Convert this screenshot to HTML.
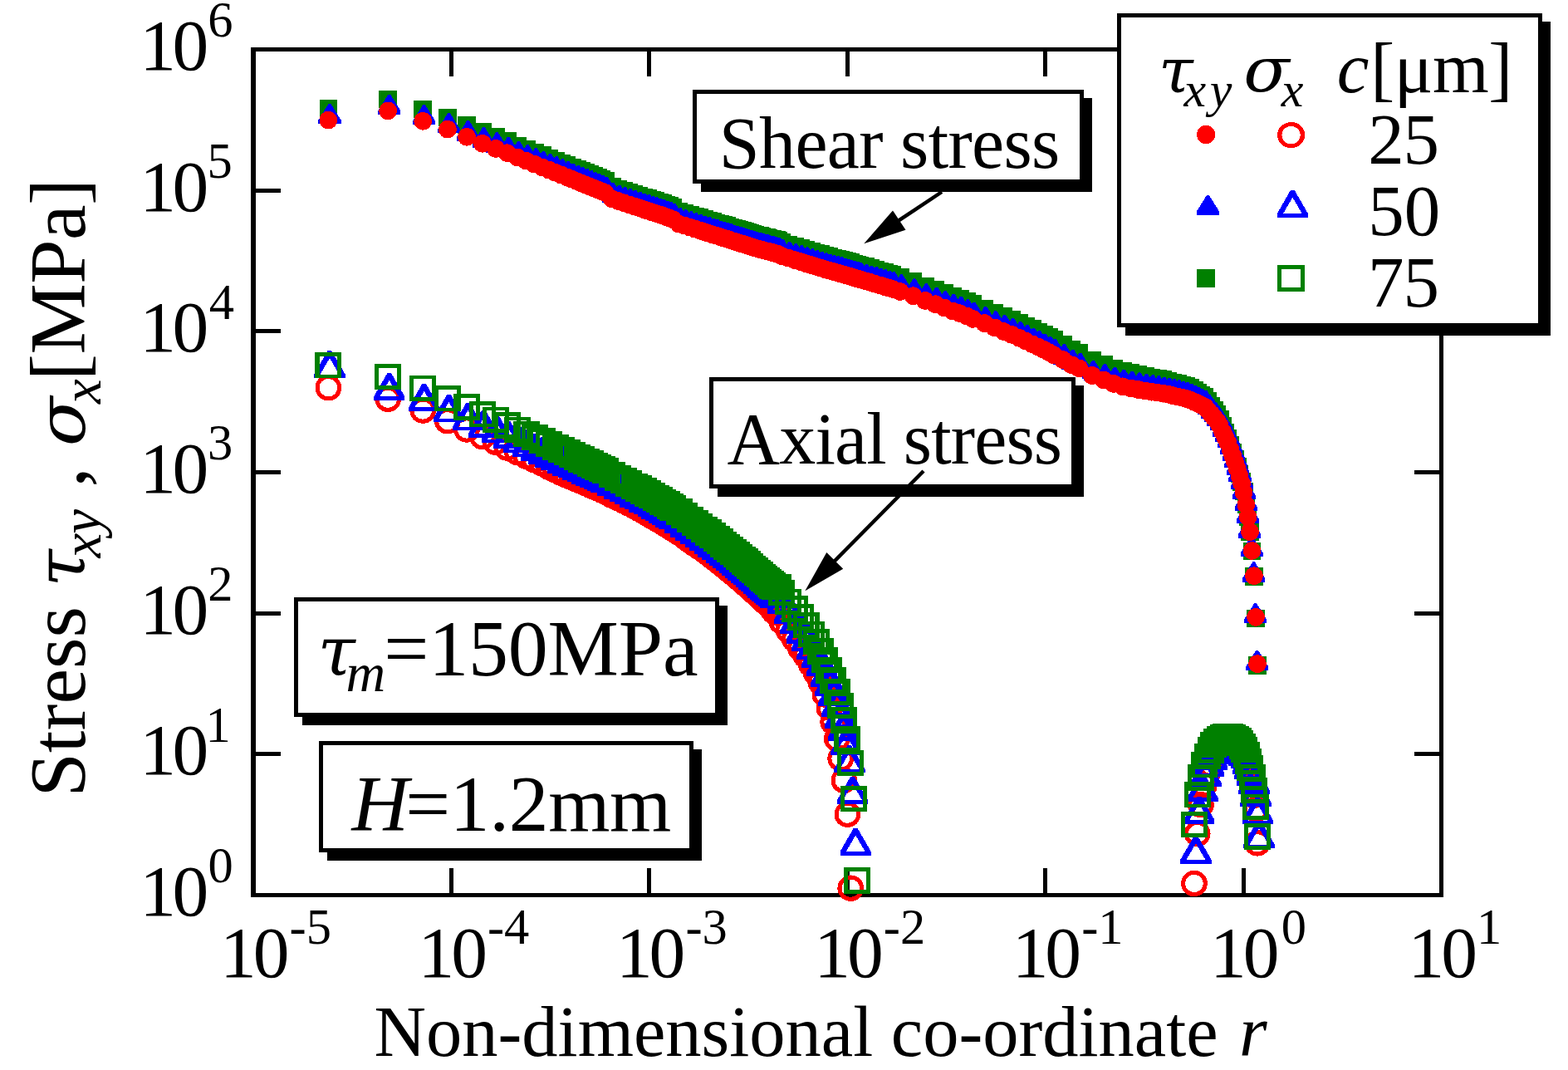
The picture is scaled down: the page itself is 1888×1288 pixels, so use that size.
<!DOCTYPE html>
<html lang="en"><head><meta charset="utf-8"><title>Stress distribution</title>
<style>html,body{margin:0;padding:0;background:#fff;overflow:hidden}svg{display:block}</style></head>
<body>
<svg xmlns="http://www.w3.org/2000/svg" width="1888" height="1288" viewBox="0 0 1888 1288" font-family="'Liberation Serif', serif" fill="#000">
<rect x="0" y="0" width="1888" height="1288" fill="#fff"/>
<g id="axes" fill="none" stroke="#000" stroke-width="5" stroke-linecap="butt" shape-rendering="crispEdges">
<path d="M305 57V1080" stroke-width="6"/>
<path d="M1735.5 57V1080"/>
<path d="M303 59.5H1738"/>
<path d="M303 1077.5H1738"/>
<path d="M543.4 59.5V92M543.4 1077.5V1045M305 229.2H338M1735.5 229.2H1703M781.8 59.5V92M781.8 1077.5V1045M305 398.8H338M1735.5 398.8H1703M1020.2 59.5V92M1020.2 1077.5V1045M305 568.5H338M1735.5 568.5H1703M1258.7 59.5V92M1258.7 1077.5V1045M305 738.2H338M1735.5 738.2H1703M1497.1 59.5V92M1497.1 1077.5V1045M305 907.8H338M1735.5 907.8H1703"/>
</g>
<g id="data" shape-rendering="crispEdges">
<path fill="#008000" d="M384.6 119.7h21.6v21.2h-21.6zM456.4 108.5h21.6v21.2h-21.6zM498.4 120.8h21.6v21.2h-21.6zM528.1 130.7h21.6v21.2h-21.6zM551.2 139.7h21.6v21.2h-21.6zM570.1 147.8h21.6v21.2h-21.6zM586.1 153.8h21.6v21.2h-21.6zM599.9 159.1h21.6v21.2h-21.6zM612.1 164.5h21.6v21.2h-21.6zM623 168.6h21.6v21.2h-21.6zM632.9 172.5h21.6v21.2h-21.6zM641.9 176.2h21.6v21.2h-21.6zM650.2 179.5h21.6v21.2h-21.6zM657.9 182.6h21.6v21.2h-21.6zM665 185.5h21.6v21.2h-21.6zM671.7 188.1h21.6v21.2h-21.6zM678 190.7h21.6v21.2h-21.6zM683.9 193h21.6v21.2h-21.6zM689.5 195.3h21.6v21.2h-21.6zM694.8 197.4h21.6v21.2h-21.6zM699.8 199.4h21.6v21.2h-21.6zM704.7 201.4h21.6v21.2h-21.6zM709.3 203.2h21.6v21.2h-21.6zM713.7 205h21.6v21.2h-21.6zM717.9 206.7h21.6v21.2h-21.6zM725.9 214.2h21.6v21.2h-21.6zM733.3 216.6h21.6v21.2h-21.6zM740.2 218.8h21.6v21.2h-21.6zM746.6 220.9h21.6v21.2h-21.6zM752.7 222.9h21.6v21.2h-21.6zM758.5 224.7h21.6v21.2h-21.6zM763.9 226.5h21.6v21.2h-21.6zM769.1 228.2h21.6v21.2h-21.6zM774 229.8h21.6v21.2h-21.6zM778.8 231.3h21.6v21.2h-21.6zM783.3 232.8h21.6v21.2h-21.6zM787.6 234.2h21.6v21.2h-21.6zM791.7 235.6h21.6v21.2h-21.6zM795.7 237h21.6v21.2h-21.6zM799.5 238.6h21.6v21.2h-21.6zM806.8 243.8h21.6v21.2h-21.6zM813.6 245.9h21.6v21.2h-21.6zM820 247.8h21.6v21.2h-21.6zM826 249.7h21.6v21.2h-21.6zM831.6 251.4h21.6v21.2h-21.6zM837 253h21.6v21.2h-21.6zM842.1 254.6h21.6v21.2h-21.6zM847 256.1h21.6v21.2h-21.6zM851.7 257.5h21.6v21.2h-21.6zM856.1 258.9h21.6v21.2h-21.6zM860.4 260.2h21.6v21.2h-21.6zM864.5 261.4h21.6v21.2h-21.6zM868.4 262.6h21.6v21.2h-21.6zM872.2 263.8h21.6v21.2h-21.6zM875.9 264.9h21.6v21.2h-21.6zM879.4 266h21.6v21.2h-21.6zM882.9 267h21.6v21.2h-21.6zM886.2 268h21.6v21.2h-21.6zM889.4 269h21.6v21.2h-21.6zM892.5 270h21.6v21.2h-21.6zM895.5 270.9h21.6v21.2h-21.6zM898.5 271.8h21.6v21.2h-21.6zM901.3 272.6h21.6v21.2h-21.6zM904.1 273.4h21.6v21.2h-21.6zM906.8 274h21.6v21.2h-21.6zM909.4 274.7h21.6v21.2h-21.6zM912 275.4h21.6v21.2h-21.6zM914.5 276h21.6v21.2h-21.6zM917 276.6h21.6v21.2h-21.6zM919.4 277.2h21.6v21.2h-21.6zM921.7 277.8h21.6v21.2h-21.6zM924 278.4h21.6v21.2h-21.6zM926.2 279h21.6v21.2h-21.6zM930.3 281.2h21.6v21.2h-21.6zM938.4 283.6h21.6v21.2h-21.6zM946 285.9h21.6v21.2h-21.6zM953.1 288h21.6v21.2h-21.6zM959.7 290h21.6v21.2h-21.6zM965.9 291.9h21.6v21.2h-21.6zM971.8 293.6h21.6v21.2h-21.6zM977.4 295.3h21.6v21.2h-21.6zM982.6 296.8h21.6v21.2h-21.6zM987.6 298.3h21.6v21.2h-21.6zM992.4 299.6h21.6v21.2h-21.6zM997 300.8h21.6v21.2h-21.6zM1001.4 301.9h21.6v21.2h-21.6zM1005.6 303.1h21.6v21.2h-21.6zM1009.6 304.3h21.6v21.2h-21.6zM1013.5 305.4h21.6v21.2h-21.6zM1017.2 306.5h21.6v21.2h-21.6zM1020.9 307.5h21.6v21.2h-21.6zM1024.4 308.5h21.6v21.2h-21.6zM1031 310.4h21.6v21.2h-21.6zM1037.3 312.2h21.6v21.2h-21.6zM1043.1 313.9h21.6v21.2h-21.6zM1048.7 315.5h21.6v21.2h-21.6zM1054 317h21.6v21.2h-21.6zM1059 318.5h21.6v21.2h-21.6zM1063.8 319.9h21.6v21.2h-21.6zM1073 322.9h21.6v21.2h-21.6zM1088.7 328h21.6v21.2h-21.6zM1103 333.7h21.6v21.2h-21.6zM1115.4 337.9h21.6v21.2h-21.6zM1125.9 342.1h21.6v21.2h-21.6zM1135.9 345.9h21.6v21.2h-21.6zM1144.9 348.7h21.6v21.2h-21.6zM1153 352h21.6v21.2h-21.6zM1160.7 355.4h21.6v21.2h-21.6zM1174.5 360.5h21.6v21.2h-21.6zM1186.6 365.6h21.6v21.2h-21.6zM1197.5 370.2h21.6v21.2h-21.6zM1207.3 374h21.6v21.2h-21.6zM1216.3 378h21.6v21.2h-21.6zM1224.5 381.8h21.6v21.2h-21.6zM1232.2 385.3h21.6v21.2h-21.6zM1239.3 388.7h21.6v21.2h-21.6zM1246 391.9h21.6v21.2h-21.6zM1252.2 395.1h21.6v21.2h-21.6zM1258.1 398.3h21.6v21.2h-21.6zM1269.2 403.9h21.6v21.2h-21.6zM1279.4 410h21.6v21.2h-21.6zM1288.4 414h21.6v21.2h-21.6zM1304.2 422.6h21.6v21.2h-21.6zM1318 428h21.6v21.2h-21.6zM1330.1 432.7h21.6v21.2h-21.6zM1341 436.2h21.6v21.2h-21.6zM1350.8 438.4h21.6v21.2h-21.6zM1359.8 440.4h21.6v21.2h-21.6zM1368.1 442.2h21.6v21.2h-21.6zM1375.7 443.6h21.6v21.2h-21.6zM1382.9 444.9h21.6v21.2h-21.6zM1389.5 446.2h21.6v21.2h-21.6zM1395.8 447.7h21.6v21.2h-21.6zM1401.7 449.5h21.6v21.2h-21.6zM1407.3 451.2h21.6v21.2h-21.6zM1412.6 452.8h21.6v21.2h-21.6zM1417.7 454.4h21.6v21.2h-21.6zM1422.5 456.4h21.6v21.2h-21.6zM1427.1 458.9h21.6v21.2h-21.6zM1431.5 461.6h21.6v21.2h-21.6zM1435.7 464.6h21.6v21.2h-21.6zM1439.8 467.3h21.6v21.2h-21.6zM1443.7 472.4h21.6v21.2h-21.6zM1447.4 477.8h21.6v21.2h-21.6zM1451 483h21.6v21.2h-21.6zM1454.6 488h21.6v21.2h-21.6zM1457.9 494.3h21.6v21.2h-21.6zM1461.2 502h21.6v21.2h-21.6zM1464.4 509.5h21.6v21.2h-21.6zM1467.5 516.7h21.6v21.2h-21.6zM1470.5 525.1h21.6v21.2h-21.6zM1473.4 533.8h21.6v21.2h-21.6zM1476.3 542.2h21.6v21.2h-21.6zM1479 550.9h21.6v21.2h-21.6zM1481.7 559.9h21.6v21.2h-21.6zM1484.3 569.3h21.6v21.2h-21.6zM1486.9 581.2h21.6v21.2h-21.6zM1489.5 596.4h21.6v21.2h-21.6zM1491.8 611.6h21.6v21.2h-21.6zM1494.2 629.5h21.6v21.2h-21.6zM1496.7 652.7h21.6v21.2h-21.6zM1499.1 683.4h21.6v21.2h-21.6zM1501.2 733.5h21.6v21.2h-21.6zM1503.2 790.3h21.6v21.2h-21.6z"/>
<path fill="#0000ff" d="M395.7 124.8h2.6l12.3 19.7v4.6h-27.3v-4.6zM467.5 113.7h2.6l12.3 19.7v4.6h-27.3v-4.6zM509.4 126.1h2.6l12.3 19.7v4.6h-27.3v-4.6zM539.2 136.1h2.6l12.3 19.7v4.6h-27.3v-4.6zM562.3 145.2h2.6l12.3 19.7v4.6h-27.3v-4.6zM581.2 153.3h2.6l12.3 19.7v4.6h-27.3v-4.6zM597.2 159.4h2.6l12.3 19.7v4.6h-27.3v-4.6zM611 164.7h2.6l12.3 19.7v4.6h-27.3v-4.6zM623.2 170.1h2.6l12.3 19.7v4.6h-27.3v-4.6zM634.1 174.2h2.6l12.3 19.7v4.6h-27.3v-4.6zM644 178.2h2.6l12.3 19.7v4.6h-27.3v-4.6zM653 181.9h2.6l12.3 19.7v4.6h-27.3v-4.6zM661.3 185.2h2.6l12.3 19.7v4.6h-27.3v-4.6zM668.9 188.3h2.6l12.3 19.7v4.6h-27.3v-4.6zM676.1 191.2h2.6l12.3 19.7v4.6h-27.3v-4.6zM682.8 193.9h2.6l12.3 19.7v4.6h-27.3v-4.6zM689 196.5h2.6l12.3 19.7v4.6h-27.3v-4.6zM695 198.9h2.6l12.3 19.7v4.6h-27.3v-4.6zM700.5 201.1h2.6l12.3 19.7v4.6h-27.3v-4.6zM705.9 203.3h2.6l12.3 19.7v4.6h-27.3v-4.6zM710.9 205.3h2.6l12.3 19.7v4.6h-27.3v-4.6zM715.7 207.3h2.6l12.3 19.7v4.6h-27.3v-4.6zM720.3 209.1h2.6l12.3 19.7v4.6h-27.3v-4.6zM724.7 210.9h2.6l12.3 19.7v4.6h-27.3v-4.6zM729 212.6h2.6l12.3 19.7v4.6h-27.3v-4.6zM736.9 220.1h2.6l12.3 19.7v4.6h-27.3v-4.6zM744.3 222.5h2.6l12.3 19.7v4.6h-27.3v-4.6zM751.2 224.8h2.6l12.3 19.7v4.6h-27.3v-4.6zM757.7 226.9h2.6l12.3 19.7v4.6h-27.3v-4.6zM763.8 228.9h2.6l12.3 19.7v4.6h-27.3v-4.6zM769.6 230.7h2.6l12.3 19.7v4.6h-27.3v-4.6zM775 232.5h2.6l12.3 19.7v4.6h-27.3v-4.6zM780.2 234.2h2.6l12.3 19.7v4.6h-27.3v-4.6zM785.1 235.8h2.6l12.3 19.7v4.6h-27.3v-4.6zM789.8 237.4h2.6l12.3 19.7v4.6h-27.3v-4.6zM794.3 238.8h2.6l12.3 19.7v4.6h-27.3v-4.6zM798.6 240.3h2.6l12.3 19.7v4.6h-27.3v-4.6zM802.8 241.7h2.6l12.3 19.7v4.6h-27.3v-4.6zM806.8 243.1h2.6l12.3 19.7v4.6h-27.3v-4.6zM810.6 244.7h2.6l12.3 19.7v4.6h-27.3v-4.6zM817.9 250.1h2.6l12.3 19.7v4.6h-27.3v-4.6zM824.7 252.2h2.6l12.3 19.7v4.6h-27.3v-4.6zM831 254.2h2.6l12.3 19.7v4.6h-27.3v-4.6zM837 256.1h2.6l12.3 19.7v4.6h-27.3v-4.6zM842.7 257.8h2.6l12.3 19.7v4.6h-27.3v-4.6zM848.1 259.5h2.6l12.3 19.7v4.6h-27.3v-4.6zM853.2 261.1h2.6l12.3 19.7v4.6h-27.3v-4.6zM858.1 262.7h2.6l12.3 19.7v4.6h-27.3v-4.6zM862.7 264.1h2.6l12.3 19.7v4.6h-27.3v-4.6zM867.2 265.5h2.6l12.3 19.7v4.6h-27.3v-4.6zM871.4 266.9h2.6l12.3 19.7v4.6h-27.3v-4.6zM875.5 268.1h2.6l12.3 19.7v4.6h-27.3v-4.6zM879.5 269.4h2.6l12.3 19.7v4.6h-27.3v-4.6zM883.3 270.6h2.6l12.3 19.7v4.6h-27.3v-4.6zM887 271.7h2.6l12.3 19.7v4.6h-27.3v-4.6zM890.5 272.8h2.6l12.3 19.7v4.6h-27.3v-4.6zM893.9 273.9h2.6l12.3 19.7v4.6h-27.3v-4.6zM897.2 274.9h2.6l12.3 19.7v4.6h-27.3v-4.6zM900.4 275.9h2.6l12.3 19.7v4.6h-27.3v-4.6zM903.6 276.9h2.6l12.3 19.7v4.6h-27.3v-4.6zM906.6 277.9h2.6l12.3 19.7v4.6h-27.3v-4.6zM909.5 278.8h2.6l12.3 19.7v4.6h-27.3v-4.6zM912.4 279.6h2.6l12.3 19.7v4.6h-27.3v-4.6zM915.2 280.4h2.6l12.3 19.7v4.6h-27.3v-4.6zM917.9 281.1h2.6l12.3 19.7v4.6h-27.3v-4.6zM920.5 281.8h2.6l12.3 19.7v4.6h-27.3v-4.6zM923.1 282.4h2.6l12.3 19.7v4.6h-27.3v-4.6zM925.6 283.1h2.6l12.3 19.7v4.6h-27.3v-4.6zM928 283.7h2.6l12.3 19.7v4.6h-27.3v-4.6zM930.4 284.3h2.6l12.3 19.7v4.6h-27.3v-4.6zM932.8 285h2.6l12.3 19.7v4.6h-27.3v-4.6zM935.1 285.6h2.6l12.3 19.7v4.6h-27.3v-4.6zM937.3 286.1h2.6l12.3 19.7v4.6h-27.3v-4.6zM941.3 288.4h2.6l12.3 19.7v4.6h-27.3v-4.6zM949.5 290.9h2.6l12.3 19.7v4.6h-27.3v-4.6zM957.1 293.2h2.6l12.3 19.7v4.6h-27.3v-4.6zM964.1 295.3h2.6l12.3 19.7v4.6h-27.3v-4.6zM970.8 297.4h2.6l12.3 19.7v4.6h-27.3v-4.6zM977 299.3h2.6l12.3 19.7v4.6h-27.3v-4.6zM982.9 301h2.6l12.3 19.7v4.6h-27.3v-4.6zM988.4 302.7h2.6l12.3 19.7v4.6h-27.3v-4.6zM993.7 304.3h2.6l12.3 19.7v4.6h-27.3v-4.6zM998.7 305.9h2.6l12.3 19.7v4.6h-27.3v-4.6zM1003.5 307.2h2.6l12.3 19.7v4.6h-27.3v-4.6zM1008 308.3h2.6l12.3 19.7v4.6h-27.3v-4.6zM1012.4 309.4h2.6l12.3 19.7v4.6h-27.3v-4.6zM1016.6 310.6h2.6l12.3 19.7v4.6h-27.3v-4.6zM1020.7 311.8h2.6l12.3 19.7v4.6h-27.3v-4.6zM1024.5 312.9h2.6l12.3 19.7v4.6h-27.3v-4.6zM1028.3 313.9h2.6l12.3 19.7v4.6h-27.3v-4.6zM1031.9 315h2.6l12.3 19.7v4.6h-27.3v-4.6zM1035.4 316h2.6l12.3 19.7v4.6h-27.3v-4.6zM1042 317.8h2.6l12.3 19.7v4.6h-27.3v-4.6zM1048.3 319.6h2.6l12.3 19.7v4.6h-27.3v-4.6zM1054.2 321.3h2.6l12.3 19.7v4.6h-27.3v-4.6zM1059.8 322.9h2.6l12.3 19.7v4.6h-27.3v-4.6zM1065 324.4h2.6l12.3 19.7v4.6h-27.3v-4.6zM1070.1 325.8h2.6l12.3 19.7v4.6h-27.3v-4.6zM1074.9 327.1h2.6l12.3 19.7v4.6h-27.3v-4.6zM1084 330.2h2.6l12.3 19.7v4.6h-27.3v-4.6zM1099.7 335.4h2.6l12.3 19.7v4.6h-27.3v-4.6zM1114 341.2h2.6l12.3 19.7v4.6h-27.3v-4.6zM1126.4 345.6h2.6l12.3 19.7v4.6h-27.3v-4.6zM1136.9 350h2.6l12.3 19.7v4.6h-27.3v-4.6zM1146.9 353.8h2.6l12.3 19.7v4.6h-27.3v-4.6zM1155.9 356.8h2.6l12.3 19.7v4.6h-27.3v-4.6zM1164 360.2h2.6l12.3 19.7v4.6h-27.3v-4.6zM1171.7 363.6h2.6l12.3 19.7v4.6h-27.3v-4.6zM1185.5 368.9h2.6l12.3 19.7v4.6h-27.3v-4.6zM1197.6 374.2h2.6l12.3 19.7v4.6h-27.3v-4.6zM1208.5 378.9h2.6l12.3 19.7v4.6h-27.3v-4.6zM1218.3 382.8h2.6l12.3 19.7v4.6h-27.3v-4.6zM1227.3 386.9h2.6l12.3 19.7v4.6h-27.3v-4.6zM1235.6 390.8h2.6l12.3 19.7v4.6h-27.3v-4.6zM1243.2 394.5h2.6l12.3 19.7v4.6h-27.3v-4.6zM1250.3 398.1h2.6l12.3 19.7v4.6h-27.3v-4.6zM1257 401.5h2.6l12.3 19.7v4.6h-27.3v-4.6zM1263.3 404.8h2.6l12.3 19.7v4.6h-27.3v-4.6zM1269.2 408.2h2.6l12.3 19.7v4.6h-27.3v-4.6zM1280.2 414.2h2.6l12.3 19.7v4.6h-27.3v-4.6zM1290.4 420.5h2.6l12.3 19.7v4.6h-27.3v-4.6zM1299.4 424.7h2.6l12.3 19.7v4.6h-27.3v-4.6zM1315.2 433.8h2.6l12.3 19.7v4.6h-27.3v-4.6zM1329 438h2.6l12.3 19.7v4.6h-27.3v-4.6zM1341.1 441.7h2.6l12.3 19.7v4.6h-27.3v-4.6zM1352 444.5h2.6l12.3 19.7v4.6h-27.3v-4.6zM1361.8 446.6h2.6l12.3 19.7v4.6h-27.3v-4.6zM1370.8 448.4h2.6l12.3 19.7v4.6h-27.3v-4.6zM1379.1 450h2.6l12.3 19.7v4.6h-27.3v-4.6zM1386.8 451.2h2.6l12.3 19.7v4.6h-27.3v-4.6zM1393.9 452.4h2.6l12.3 19.7v4.6h-27.3v-4.6zM1400.6 453.5h2.6l12.3 19.7v4.6h-27.3v-4.6zM1406.8 454.6h2.6l12.3 19.7v4.6h-27.3v-4.6zM1412.7 456h2.6l12.3 19.7v4.6h-27.3v-4.6zM1418.3 457.4h2.6l12.3 19.7v4.6h-27.3v-4.6zM1423.6 458.7h2.6l12.3 19.7v4.6h-27.3v-4.6zM1428.7 459.9h2.6l12.3 19.7v4.6h-27.3v-4.6zM1433.5 461.6h2.6l12.3 19.7v4.6h-27.3v-4.6zM1438.1 463.8h2.6l12.3 19.7v4.6h-27.3v-4.6zM1442.5 466h2.6l12.3 19.7v4.6h-27.3v-4.6zM1446.7 468.2h2.6l12.3 19.7v4.6h-27.3v-4.6zM1450.8 470.3h2.6l12.3 19.7v4.6h-27.3v-4.6zM1454.7 474.8h2.6l12.3 19.7v4.6h-27.3v-4.6zM1458.4 479.5h2.6l12.3 19.7v4.6h-27.3v-4.6zM1462 484h2.6l12.3 19.7v4.6h-27.3v-4.6zM1465.6 488.4h2.6l12.3 19.7v4.6h-27.3v-4.6zM1468.9 494.1h2.6l12.3 19.7v4.6h-27.3v-4.6zM1472.2 501.2h2.6l12.3 19.7v4.6h-27.3v-4.6zM1475.4 508.1h2.6l12.3 19.7v4.6h-27.3v-4.6zM1478.5 514.8h2.6l12.3 19.7v4.6h-27.3v-4.6zM1481.4 522.7h2.6l12.3 19.7v4.6h-27.3v-4.6zM1484.1 531h2.6l12.3 19.7v4.6h-27.3v-4.6zM1486.7 539h2.6l12.3 19.7v4.6h-27.3v-4.6zM1489.3 547.4h2.6l12.3 19.7v4.6h-27.3v-4.6zM1491.8 556h2.6l12.3 19.7v4.6h-27.3v-4.6zM1494.2 565h2.6l12.3 19.7v4.6h-27.3v-4.6zM1496.6 576.2h2.6l12.3 19.7v4.6h-27.3v-4.6zM1499 590.7h2.6l12.3 19.7v4.6h-27.3v-4.6zM1501.2 605.6h2.6l12.3 19.7v4.6h-27.3v-4.6zM1503.4 623.3h2.6l12.3 19.7v4.6h-27.3v-4.6zM1505.9 646.1h2.6l12.3 19.7v4.6h-27.3v-4.6zM1508.3 676.4h2.6l12.3 19.7v4.6h-27.3v-4.6zM1510.4 726.1h2.6l12.3 19.7v4.6h-27.3v-4.6zM1512.4 782.8h2.6l12.3 19.7v4.6h-27.3v-4.6z"/>
<path fill="#ff0000" d="M384.6 144.6a10.8 10.8 0 1 1 21.6 0a10.8 10.8 0 1 1 -21.6 0zM456.4 133.4a10.8 10.8 0 1 1 21.6 0a10.8 10.8 0 1 1 -21.6 0zM498.4 145.8a10.8 10.8 0 1 1 21.6 0a10.8 10.8 0 1 1 -21.6 0zM528.1 155.7a10.8 10.8 0 1 1 21.6 0a10.8 10.8 0 1 1 -21.6 0zM551.2 164.8a10.8 10.8 0 1 1 21.6 0a10.8 10.8 0 1 1 -21.6 0zM570.1 172.8a10.8 10.8 0 1 1 21.6 0a10.8 10.8 0 1 1 -21.6 0zM586.1 178.9a10.8 10.8 0 1 1 21.6 0a10.8 10.8 0 1 1 -21.6 0zM599.9 184.2a10.8 10.8 0 1 1 21.6 0a10.8 10.8 0 1 1 -21.6 0zM612.1 189.6a10.8 10.8 0 1 1 21.6 0a10.8 10.8 0 1 1 -21.6 0zM623 193.7a10.8 10.8 0 1 1 21.6 0a10.8 10.8 0 1 1 -21.6 0zM632.9 197.7a10.8 10.8 0 1 1 21.6 0a10.8 10.8 0 1 1 -21.6 0zM641.9 201.3a10.8 10.8 0 1 1 21.6 0a10.8 10.8 0 1 1 -21.6 0zM650.2 204.7a10.8 10.8 0 1 1 21.6 0a10.8 10.8 0 1 1 -21.6 0zM657.9 207.7a10.8 10.8 0 1 1 21.6 0a10.8 10.8 0 1 1 -21.6 0zM665 210.6a10.8 10.8 0 1 1 21.6 0a10.8 10.8 0 1 1 -21.6 0zM671.7 213.3a10.8 10.8 0 1 1 21.6 0a10.8 10.8 0 1 1 -21.6 0zM678 215.8a10.8 10.8 0 1 1 21.6 0a10.8 10.8 0 1 1 -21.6 0zM683.9 218.2a10.8 10.8 0 1 1 21.6 0a10.8 10.8 0 1 1 -21.6 0zM689.5 220.5a10.8 10.8 0 1 1 21.6 0a10.8 10.8 0 1 1 -21.6 0zM694.8 222.6a10.8 10.8 0 1 1 21.6 0a10.8 10.8 0 1 1 -21.6 0zM699.8 224.7a10.8 10.8 0 1 1 21.6 0a10.8 10.8 0 1 1 -21.6 0zM704.7 226.6a10.8 10.8 0 1 1 21.6 0a10.8 10.8 0 1 1 -21.6 0zM709.3 228.5a10.8 10.8 0 1 1 21.6 0a10.8 10.8 0 1 1 -21.6 0zM713.7 230.3a10.8 10.8 0 1 1 21.6 0a10.8 10.8 0 1 1 -21.6 0zM717.9 232a10.8 10.8 0 1 1 21.6 0a10.8 10.8 0 1 1 -21.6 0zM725.9 239.5a10.8 10.8 0 1 1 21.6 0a10.8 10.8 0 1 1 -21.6 0zM733.3 241.9a10.8 10.8 0 1 1 21.6 0a10.8 10.8 0 1 1 -21.6 0zM740.2 244.2a10.8 10.8 0 1 1 21.6 0a10.8 10.8 0 1 1 -21.6 0zM746.6 246.3a10.8 10.8 0 1 1 21.6 0a10.8 10.8 0 1 1 -21.6 0zM752.7 248.3a10.8 10.8 0 1 1 21.6 0a10.8 10.8 0 1 1 -21.6 0zM758.5 250.2a10.8 10.8 0 1 1 21.6 0a10.8 10.8 0 1 1 -21.6 0zM763.9 252a10.8 10.8 0 1 1 21.6 0a10.8 10.8 0 1 1 -21.6 0zM769.1 253.7a10.8 10.8 0 1 1 21.6 0a10.8 10.8 0 1 1 -21.6 0zM774 255.3a10.8 10.8 0 1 1 21.6 0a10.8 10.8 0 1 1 -21.6 0zM778.8 256.9a10.8 10.8 0 1 1 21.6 0a10.8 10.8 0 1 1 -21.6 0zM783.3 258.3a10.8 10.8 0 1 1 21.6 0a10.8 10.8 0 1 1 -21.6 0zM787.6 259.8a10.8 10.8 0 1 1 21.6 0a10.8 10.8 0 1 1 -21.6 0zM791.7 261.2a10.8 10.8 0 1 1 21.6 0a10.8 10.8 0 1 1 -21.6 0zM795.7 262.7a10.8 10.8 0 1 1 21.6 0a10.8 10.8 0 1 1 -21.6 0zM799.5 264.3a10.8 10.8 0 1 1 21.6 0a10.8 10.8 0 1 1 -21.6 0zM806.8 269.6a10.8 10.8 0 1 1 21.6 0a10.8 10.8 0 1 1 -21.6 0zM813.6 271.7a10.8 10.8 0 1 1 21.6 0a10.8 10.8 0 1 1 -21.6 0zM820 273.7a10.8 10.8 0 1 1 21.6 0a10.8 10.8 0 1 1 -21.6 0zM826 275.6a10.8 10.8 0 1 1 21.6 0a10.8 10.8 0 1 1 -21.6 0zM831.6 277.4a10.8 10.8 0 1 1 21.6 0a10.8 10.8 0 1 1 -21.6 0zM837 279.1a10.8 10.8 0 1 1 21.6 0a10.8 10.8 0 1 1 -21.6 0zM842.1 280.7a10.8 10.8 0 1 1 21.6 0a10.8 10.8 0 1 1 -21.6 0zM847 282.3a10.8 10.8 0 1 1 21.6 0a10.8 10.8 0 1 1 -21.6 0zM851.7 283.7a10.8 10.8 0 1 1 21.6 0a10.8 10.8 0 1 1 -21.6 0zM856.1 285.1a10.8 10.8 0 1 1 21.6 0a10.8 10.8 0 1 1 -21.6 0zM860.4 286.5a10.8 10.8 0 1 1 21.6 0a10.8 10.8 0 1 1 -21.6 0zM864.5 287.8a10.8 10.8 0 1 1 21.6 0a10.8 10.8 0 1 1 -21.6 0zM868.4 289a10.8 10.8 0 1 1 21.6 0a10.8 10.8 0 1 1 -21.6 0zM872.2 290.2a10.8 10.8 0 1 1 21.6 0a10.8 10.8 0 1 1 -21.6 0zM875.9 291.4a10.8 10.8 0 1 1 21.6 0a10.8 10.8 0 1 1 -21.6 0zM879.4 292.5a10.8 10.8 0 1 1 21.6 0a10.8 10.8 0 1 1 -21.6 0zM882.9 293.6a10.8 10.8 0 1 1 21.6 0a10.8 10.8 0 1 1 -21.6 0zM886.2 294.6a10.8 10.8 0 1 1 21.6 0a10.8 10.8 0 1 1 -21.6 0zM889.4 295.6a10.8 10.8 0 1 1 21.6 0a10.8 10.8 0 1 1 -21.6 0zM892.5 296.6a10.8 10.8 0 1 1 21.6 0a10.8 10.8 0 1 1 -21.6 0zM895.5 297.6a10.8 10.8 0 1 1 21.6 0a10.8 10.8 0 1 1 -21.6 0zM898.5 298.5a10.8 10.8 0 1 1 21.6 0a10.8 10.8 0 1 1 -21.6 0zM901.3 299.3a10.8 10.8 0 1 1 21.6 0a10.8 10.8 0 1 1 -21.6 0zM904.1 300.1a10.8 10.8 0 1 1 21.6 0a10.8 10.8 0 1 1 -21.6 0zM906.8 300.8a10.8 10.8 0 1 1 21.6 0a10.8 10.8 0 1 1 -21.6 0zM909.4 301.5a10.8 10.8 0 1 1 21.6 0a10.8 10.8 0 1 1 -21.6 0zM912 302.2a10.8 10.8 0 1 1 21.6 0a10.8 10.8 0 1 1 -21.6 0zM914.5 302.8a10.8 10.8 0 1 1 21.6 0a10.8 10.8 0 1 1 -21.6 0zM917 303.5a10.8 10.8 0 1 1 21.6 0a10.8 10.8 0 1 1 -21.6 0zM919.4 304.1a10.8 10.8 0 1 1 21.6 0a10.8 10.8 0 1 1 -21.6 0zM921.7 304.7a10.8 10.8 0 1 1 21.6 0a10.8 10.8 0 1 1 -21.6 0zM924 305.3a10.8 10.8 0 1 1 21.6 0a10.8 10.8 0 1 1 -21.6 0zM926.2 305.9a10.8 10.8 0 1 1 21.6 0a10.8 10.8 0 1 1 -21.6 0zM930.3 308.1a10.8 10.8 0 1 1 21.6 0a10.8 10.8 0 1 1 -21.6 0zM938.4 310.6a10.8 10.8 0 1 1 21.6 0a10.8 10.8 0 1 1 -21.6 0zM946 313a10.8 10.8 0 1 1 21.6 0a10.8 10.8 0 1 1 -21.6 0zM953.1 315.1a10.8 10.8 0 1 1 21.6 0a10.8 10.8 0 1 1 -21.6 0zM959.7 317.2a10.8 10.8 0 1 1 21.6 0a10.8 10.8 0 1 1 -21.6 0zM965.9 319.1a10.8 10.8 0 1 1 21.6 0a10.8 10.8 0 1 1 -21.6 0zM971.8 320.9a10.8 10.8 0 1 1 21.6 0a10.8 10.8 0 1 1 -21.6 0zM977.4 322.6a10.8 10.8 0 1 1 21.6 0a10.8 10.8 0 1 1 -21.6 0zM982.6 324.2a10.8 10.8 0 1 1 21.6 0a10.8 10.8 0 1 1 -21.6 0zM987.6 325.7a10.8 10.8 0 1 1 21.6 0a10.8 10.8 0 1 1 -21.6 0zM992.4 327a10.8 10.8 0 1 1 21.6 0a10.8 10.8 0 1 1 -21.6 0zM997 328.2a10.8 10.8 0 1 1 21.6 0a10.8 10.8 0 1 1 -21.6 0zM1001.4 329.4a10.8 10.8 0 1 1 21.6 0a10.8 10.8 0 1 1 -21.6 0zM1005.6 330.7a10.8 10.8 0 1 1 21.6 0a10.8 10.8 0 1 1 -21.6 0zM1009.6 331.9a10.8 10.8 0 1 1 21.6 0a10.8 10.8 0 1 1 -21.6 0zM1013.5 333a10.8 10.8 0 1 1 21.6 0a10.8 10.8 0 1 1 -21.6 0zM1017.2 334.1a10.8 10.8 0 1 1 21.6 0a10.8 10.8 0 1 1 -21.6 0zM1020.9 335.2a10.8 10.8 0 1 1 21.6 0a10.8 10.8 0 1 1 -21.6 0zM1024.4 336.2a10.8 10.8 0 1 1 21.6 0a10.8 10.8 0 1 1 -21.6 0zM1031 338.2a10.8 10.8 0 1 1 21.6 0a10.8 10.8 0 1 1 -21.6 0zM1037.3 340a10.8 10.8 0 1 1 21.6 0a10.8 10.8 0 1 1 -21.6 0zM1043.1 341.8a10.8 10.8 0 1 1 21.6 0a10.8 10.8 0 1 1 -21.6 0zM1048.7 343.4a10.8 10.8 0 1 1 21.6 0a10.8 10.8 0 1 1 -21.6 0zM1054 345a10.8 10.8 0 1 1 21.6 0a10.8 10.8 0 1 1 -21.6 0zM1059 346.5a10.8 10.8 0 1 1 21.6 0a10.8 10.8 0 1 1 -21.6 0zM1063.8 347.9a10.8 10.8 0 1 1 21.6 0a10.8 10.8 0 1 1 -21.6 0zM1073 351a10.8 10.8 0 1 1 21.6 0a10.8 10.8 0 1 1 -21.6 0zM1088.7 356.2a10.8 10.8 0 1 1 21.6 0a10.8 10.8 0 1 1 -21.6 0zM1103 361.9a10.8 10.8 0 1 1 21.6 0a10.8 10.8 0 1 1 -21.6 0zM1115.4 366.2a10.8 10.8 0 1 1 21.6 0a10.8 10.8 0 1 1 -21.6 0zM1125.9 370.5a10.8 10.8 0 1 1 21.6 0a10.8 10.8 0 1 1 -21.6 0zM1135.9 374.3a10.8 10.8 0 1 1 21.6 0a10.8 10.8 0 1 1 -21.6 0zM1144.9 377.2a10.8 10.8 0 1 1 21.6 0a10.8 10.8 0 1 1 -21.6 0zM1153 380.5a10.8 10.8 0 1 1 21.6 0a10.8 10.8 0 1 1 -21.6 0zM1160.7 383.9a10.8 10.8 0 1 1 21.6 0a10.8 10.8 0 1 1 -21.6 0zM1174.5 389.1a10.8 10.8 0 1 1 21.6 0a10.8 10.8 0 1 1 -21.6 0zM1186.6 394.3a10.8 10.8 0 1 1 21.6 0a10.8 10.8 0 1 1 -21.6 0zM1197.5 399a10.8 10.8 0 1 1 21.6 0a10.8 10.8 0 1 1 -21.6 0zM1207.3 402.8a10.8 10.8 0 1 1 21.6 0a10.8 10.8 0 1 1 -21.6 0zM1216.3 406.8a10.8 10.8 0 1 1 21.6 0a10.8 10.8 0 1 1 -21.6 0zM1224.5 410.6a10.8 10.8 0 1 1 21.6 0a10.8 10.8 0 1 1 -21.6 0zM1232.2 414.3a10.8 10.8 0 1 1 21.6 0a10.8 10.8 0 1 1 -21.6 0zM1239.3 417.7a10.8 10.8 0 1 1 21.6 0a10.8 10.8 0 1 1 -21.6 0zM1246 420.9a10.8 10.8 0 1 1 21.6 0a10.8 10.8 0 1 1 -21.6 0zM1252.2 424.1a10.8 10.8 0 1 1 21.6 0a10.8 10.8 0 1 1 -21.6 0zM1258.1 427.4a10.8 10.8 0 1 1 21.6 0a10.8 10.8 0 1 1 -21.6 0zM1269.2 433.1a10.8 10.8 0 1 1 21.6 0a10.8 10.8 0 1 1 -21.6 0zM1279.4 439.2a10.8 10.8 0 1 1 21.6 0a10.8 10.8 0 1 1 -21.6 0zM1288.4 443.3a10.8 10.8 0 1 1 21.6 0a10.8 10.8 0 1 1 -21.6 0zM1304.2 452a10.8 10.8 0 1 1 21.6 0a10.8 10.8 0 1 1 -21.6 0zM1318 457.3a10.8 10.8 0 1 1 21.6 0a10.8 10.8 0 1 1 -21.6 0zM1330.1 461.9a10.8 10.8 0 1 1 21.6 0a10.8 10.8 0 1 1 -21.6 0zM1341 465.3a10.8 10.8 0 1 1 21.6 0a10.8 10.8 0 1 1 -21.6 0zM1350.8 467.3a10.8 10.8 0 1 1 21.6 0a10.8 10.8 0 1 1 -21.6 0zM1359.8 469a10.8 10.8 0 1 1 21.6 0a10.8 10.8 0 1 1 -21.6 0zM1368.1 470.5a10.8 10.8 0 1 1 21.6 0a10.8 10.8 0 1 1 -21.6 0zM1375.7 471.7a10.8 10.8 0 1 1 21.6 0a10.8 10.8 0 1 1 -21.6 0zM1382.9 472.7a10.8 10.8 0 1 1 21.6 0a10.8 10.8 0 1 1 -21.6 0zM1389.5 473.7a10.8 10.8 0 1 1 21.6 0a10.8 10.8 0 1 1 -21.6 0zM1395.8 474.8a10.8 10.8 0 1 1 21.6 0a10.8 10.8 0 1 1 -21.6 0zM1401.7 476.2a10.8 10.8 0 1 1 21.6 0a10.8 10.8 0 1 1 -21.6 0zM1407.3 477.5a10.8 10.8 0 1 1 21.6 0a10.8 10.8 0 1 1 -21.6 0zM1412.6 478.7a10.8 10.8 0 1 1 21.6 0a10.8 10.8 0 1 1 -21.6 0zM1417.7 479.9a10.8 10.8 0 1 1 21.6 0a10.8 10.8 0 1 1 -21.6 0zM1422.5 481.6a10.8 10.8 0 1 1 21.6 0a10.8 10.8 0 1 1 -21.6 0zM1427.1 483.7a10.8 10.8 0 1 1 21.6 0a10.8 10.8 0 1 1 -21.6 0zM1431.5 485.7a10.8 10.8 0 1 1 21.6 0a10.8 10.8 0 1 1 -21.6 0zM1435.7 487.7a10.8 10.8 0 1 1 21.6 0a10.8 10.8 0 1 1 -21.6 0zM1439.8 489.6a10.8 10.8 0 1 1 21.6 0a10.8 10.8 0 1 1 -21.6 0zM1443.7 493.8a10.8 10.8 0 1 1 21.6 0a10.8 10.8 0 1 1 -21.6 0zM1447.4 498.3a10.8 10.8 0 1 1 21.6 0a10.8 10.8 0 1 1 -21.6 0zM1451 502.7a10.8 10.8 0 1 1 21.6 0a10.8 10.8 0 1 1 -21.6 0zM1454.6 506.9a10.8 10.8 0 1 1 21.6 0a10.8 10.8 0 1 1 -21.6 0zM1457.9 512.5a10.8 10.8 0 1 1 21.6 0a10.8 10.8 0 1 1 -21.6 0zM1461.2 519.4a10.8 10.8 0 1 1 21.6 0a10.8 10.8 0 1 1 -21.6 0zM1464.4 526.2a10.8 10.8 0 1 1 21.6 0a10.8 10.8 0 1 1 -21.6 0zM1467.5 532.7a10.8 10.8 0 1 1 21.6 0a10.8 10.8 0 1 1 -21.6 0zM1470.5 540.5a10.8 10.8 0 1 1 21.6 0a10.8 10.8 0 1 1 -21.6 0zM1473.4 548.5a10.8 10.8 0 1 1 21.6 0a10.8 10.8 0 1 1 -21.6 0zM1476.3 556.4a10.8 10.8 0 1 1 21.6 0a10.8 10.8 0 1 1 -21.6 0zM1479 564.6a10.8 10.8 0 1 1 21.6 0a10.8 10.8 0 1 1 -21.6 0zM1481.7 573.1a10.8 10.8 0 1 1 21.6 0a10.8 10.8 0 1 1 -21.6 0zM1484.3 581.8a10.8 10.8 0 1 1 21.6 0a10.8 10.8 0 1 1 -21.6 0zM1486.9 593a10.8 10.8 0 1 1 21.6 0a10.8 10.8 0 1 1 -21.6 0zM1489.5 607.5a10.8 10.8 0 1 1 21.6 0a10.8 10.8 0 1 1 -21.6 0zM1491.8 622.4a10.8 10.8 0 1 1 21.6 0a10.8 10.8 0 1 1 -21.6 0zM1494.2 640.1a10.8 10.8 0 1 1 21.6 0a10.8 10.8 0 1 1 -21.6 0zM1496.7 662.9a10.8 10.8 0 1 1 21.6 0a10.8 10.8 0 1 1 -21.6 0zM1499.1 693.2a10.8 10.8 0 1 1 21.6 0a10.8 10.8 0 1 1 -21.6 0zM1501.2 742.9a10.8 10.8 0 1 1 21.6 0a10.8 10.8 0 1 1 -21.6 0zM1503.2 799.1a10.8 10.8 0 1 1 21.6 0a10.8 10.8 0 1 1 -21.6 0z"/>
<path fill="#ff0000" d="M379.5 466.7a15.9 15.7 0 1 1 31.8 0a15.9 15.7 0 1 1 -31.8 0zM384.6 466.7a10.8 10.6 0 1 0 21.6 0a10.8 10.6 0 1 0 -21.6 0zM451.3 480.3a15.9 15.7 0 1 1 31.8 0a15.9 15.7 0 1 1 -31.8 0zM456.4 480.3a10.8 10.6 0 1 0 21.6 0a10.8 10.6 0 1 0 -21.6 0zM493.3 494.1a15.9 15.7 0 1 1 31.8 0a15.9 15.7 0 1 1 -31.8 0zM498.4 494.1a10.8 10.6 0 1 0 21.6 0a10.8 10.6 0 1 0 -21.6 0zM523 506.8a15.9 15.7 0 1 1 31.8 0a15.9 15.7 0 1 1 -31.8 0zM528.1 506.8a10.8 10.6 0 1 0 21.6 0a10.8 10.6 0 1 0 -21.6 0zM546.1 517a15.9 15.7 0 1 1 31.8 0a15.9 15.7 0 1 1 -31.8 0zM551.2 517a10.8 10.6 0 1 0 21.6 0a10.8 10.6 0 1 0 -21.6 0zM565 525.7a15.9 15.7 0 1 1 31.8 0a15.9 15.7 0 1 1 -31.8 0zM570.1 525.7a10.8 10.6 0 1 0 21.6 0a10.8 10.6 0 1 0 -21.6 0zM581 532.2a15.9 15.7 0 1 1 31.8 0a15.9 15.7 0 1 1 -31.8 0zM586.1 532.2a10.8 10.6 0 1 0 21.6 0a10.8 10.6 0 1 0 -21.6 0zM594.8 539.1a15.9 15.7 0 1 1 31.8 0a15.9 15.7 0 1 1 -31.8 0zM599.9 539.1a10.8 10.6 0 1 0 21.6 0a10.8 10.6 0 1 0 -21.6 0zM607 544.6a15.9 15.7 0 1 1 31.8 0a15.9 15.7 0 1 1 -31.8 0zM612.1 544.6a10.8 10.6 0 1 0 21.6 0a10.8 10.6 0 1 0 -21.6 0zM617.9 549.4a15.9 15.7 0 1 1 31.8 0a15.9 15.7 0 1 1 -31.8 0zM623 549.4a10.8 10.6 0 1 0 21.6 0a10.8 10.6 0 1 0 -21.6 0zM627.8 553.8a15.9 15.7 0 1 1 31.8 0a15.9 15.7 0 1 1 -31.8 0zM632.9 553.8a10.8 10.6 0 1 0 21.6 0a10.8 10.6 0 1 0 -21.6 0zM636.8 557.9a15.9 15.7 0 1 1 31.8 0a15.9 15.7 0 1 1 -31.8 0zM641.9 557.9a10.8 10.6 0 1 0 21.6 0a10.8 10.6 0 1 0 -21.6 0zM645.1 562.2a15.9 15.7 0 1 1 31.8 0a15.9 15.7 0 1 1 -31.8 0zM650.2 562.2a10.8 10.6 0 1 0 21.6 0a10.8 10.6 0 1 0 -21.6 0zM652.8 565.9a15.9 15.7 0 1 1 31.8 0a15.9 15.7 0 1 1 -31.8 0zM657.9 565.9a10.8 10.6 0 1 0 21.6 0a10.8 10.6 0 1 0 -21.6 0zM659.9 569.2a15.9 15.7 0 1 1 31.8 0a15.9 15.7 0 1 1 -31.8 0zM665 569.2a10.8 10.6 0 1 0 21.6 0a10.8 10.6 0 1 0 -21.6 0zM666.6 572.2a15.9 15.7 0 1 1 31.8 0a15.9 15.7 0 1 1 -31.8 0zM671.7 572.2a10.8 10.6 0 1 0 21.6 0a10.8 10.6 0 1 0 -21.6 0zM672.9 574.7a15.9 15.7 0 1 1 31.8 0a15.9 15.7 0 1 1 -31.8 0zM678 574.7a10.8 10.6 0 1 0 21.6 0a10.8 10.6 0 1 0 -21.6 0zM678.8 577.1a15.9 15.7 0 1 1 31.8 0a15.9 15.7 0 1 1 -31.8 0zM683.9 577.1a10.8 10.6 0 1 0 21.6 0a10.8 10.6 0 1 0 -21.6 0zM684.4 579.5a15.9 15.7 0 1 1 31.8 0a15.9 15.7 0 1 1 -31.8 0zM689.5 579.5a10.8 10.6 0 1 0 21.6 0a10.8 10.6 0 1 0 -21.6 0zM689.7 581.8a15.9 15.7 0 1 1 31.8 0a15.9 15.7 0 1 1 -31.8 0zM694.8 581.8a10.8 10.6 0 1 0 21.6 0a10.8 10.6 0 1 0 -21.6 0zM694.7 584a15.9 15.7 0 1 1 31.8 0a15.9 15.7 0 1 1 -31.8 0zM699.8 584a10.8 10.6 0 1 0 21.6 0a10.8 10.6 0 1 0 -21.6 0zM699.6 586a15.9 15.7 0 1 1 31.8 0a15.9 15.7 0 1 1 -31.8 0zM704.7 586a10.8 10.6 0 1 0 21.6 0a10.8 10.6 0 1 0 -21.6 0zM704.2 588a15.9 15.7 0 1 1 31.8 0a15.9 15.7 0 1 1 -31.8 0zM709.3 588a10.8 10.6 0 1 0 21.6 0a10.8 10.6 0 1 0 -21.6 0zM708.6 589.9a15.9 15.7 0 1 1 31.8 0a15.9 15.7 0 1 1 -31.8 0zM713.7 589.9a10.8 10.6 0 1 0 21.6 0a10.8 10.6 0 1 0 -21.6 0zM712.8 591.7a15.9 15.7 0 1 1 31.8 0a15.9 15.7 0 1 1 -31.8 0zM717.9 591.7a10.8 10.6 0 1 0 21.6 0a10.8 10.6 0 1 0 -21.6 0zM720.8 596.4a15.9 15.7 0 1 1 31.8 0a15.9 15.7 0 1 1 -31.8 0zM725.9 596.4a10.8 10.6 0 1 0 21.6 0a10.8 10.6 0 1 0 -21.6 0zM728.2 599.7a15.9 15.7 0 1 1 31.8 0a15.9 15.7 0 1 1 -31.8 0zM733.3 599.7a10.8 10.6 0 1 0 21.6 0a10.8 10.6 0 1 0 -21.6 0zM735.1 602.9a15.9 15.7 0 1 1 31.8 0a15.9 15.7 0 1 1 -31.8 0zM740.2 602.9a10.8 10.6 0 1 0 21.6 0a10.8 10.6 0 1 0 -21.6 0zM741.5 606.1a15.9 15.7 0 1 1 31.8 0a15.9 15.7 0 1 1 -31.8 0zM746.6 606.1a10.8 10.6 0 1 0 21.6 0a10.8 10.6 0 1 0 -21.6 0zM747.6 609.3a15.9 15.7 0 1 1 31.8 0a15.9 15.7 0 1 1 -31.8 0zM752.7 609.3a10.8 10.6 0 1 0 21.6 0a10.8 10.6 0 1 0 -21.6 0zM753.4 612.4a15.9 15.7 0 1 1 31.8 0a15.9 15.7 0 1 1 -31.8 0zM758.5 612.4a10.8 10.6 0 1 0 21.6 0a10.8 10.6 0 1 0 -21.6 0zM758.8 615.4a15.9 15.7 0 1 1 31.8 0a15.9 15.7 0 1 1 -31.8 0zM763.9 615.4a10.8 10.6 0 1 0 21.6 0a10.8 10.6 0 1 0 -21.6 0zM764 618.4a15.9 15.7 0 1 1 31.8 0a15.9 15.7 0 1 1 -31.8 0zM769.1 618.4a10.8 10.6 0 1 0 21.6 0a10.8 10.6 0 1 0 -21.6 0zM768.9 621.3a15.9 15.7 0 1 1 31.8 0a15.9 15.7 0 1 1 -31.8 0zM774 621.3a10.8 10.6 0 1 0 21.6 0a10.8 10.6 0 1 0 -21.6 0zM773.7 624a15.9 15.7 0 1 1 31.8 0a15.9 15.7 0 1 1 -31.8 0zM778.8 624a10.8 10.6 0 1 0 21.6 0a10.8 10.6 0 1 0 -21.6 0zM778.2 626.6a15.9 15.7 0 1 1 31.8 0a15.9 15.7 0 1 1 -31.8 0zM783.3 626.6a10.8 10.6 0 1 0 21.6 0a10.8 10.6 0 1 0 -21.6 0zM782.5 629a15.9 15.7 0 1 1 31.8 0a15.9 15.7 0 1 1 -31.8 0zM787.6 629a10.8 10.6 0 1 0 21.6 0a10.8 10.6 0 1 0 -21.6 0zM786.6 631.6a15.9 15.7 0 1 1 31.8 0a15.9 15.7 0 1 1 -31.8 0zM791.7 631.6a10.8 10.6 0 1 0 21.6 0a10.8 10.6 0 1 0 -21.6 0zM790.6 634.2a15.9 15.7 0 1 1 31.8 0a15.9 15.7 0 1 1 -31.8 0zM795.7 634.2a10.8 10.6 0 1 0 21.6 0a10.8 10.6 0 1 0 -21.6 0zM794.4 636.6a15.9 15.7 0 1 1 31.8 0a15.9 15.7 0 1 1 -31.8 0zM799.5 636.6a10.8 10.6 0 1 0 21.6 0a10.8 10.6 0 1 0 -21.6 0zM801.7 641.3a15.9 15.7 0 1 1 31.8 0a15.9 15.7 0 1 1 -31.8 0zM806.8 641.3a10.8 10.6 0 1 0 21.6 0a10.8 10.6 0 1 0 -21.6 0zM808.5 646.1a15.9 15.7 0 1 1 31.8 0a15.9 15.7 0 1 1 -31.8 0zM813.6 646.1a10.8 10.6 0 1 0 21.6 0a10.8 10.6 0 1 0 -21.6 0zM814.9 650.7a15.9 15.7 0 1 1 31.8 0a15.9 15.7 0 1 1 -31.8 0zM820 650.7a10.8 10.6 0 1 0 21.6 0a10.8 10.6 0 1 0 -21.6 0zM820.9 654.8a15.9 15.7 0 1 1 31.8 0a15.9 15.7 0 1 1 -31.8 0zM826 654.8a10.8 10.6 0 1 0 21.6 0a10.8 10.6 0 1 0 -21.6 0zM826.5 658.7a15.9 15.7 0 1 1 31.8 0a15.9 15.7 0 1 1 -31.8 0zM831.6 658.7a10.8 10.6 0 1 0 21.6 0a10.8 10.6 0 1 0 -21.6 0zM831.9 662.4a15.9 15.7 0 1 1 31.8 0a15.9 15.7 0 1 1 -31.8 0zM837 662.4a10.8 10.6 0 1 0 21.6 0a10.8 10.6 0 1 0 -21.6 0zM837 666.1a15.9 15.7 0 1 1 31.8 0a15.9 15.7 0 1 1 -31.8 0zM842.1 666.1a10.8 10.6 0 1 0 21.6 0a10.8 10.6 0 1 0 -21.6 0zM841.9 669.8a15.9 15.7 0 1 1 31.8 0a15.9 15.7 0 1 1 -31.8 0zM847 669.8a10.8 10.6 0 1 0 21.6 0a10.8 10.6 0 1 0 -21.6 0zM846.6 673.4a15.9 15.7 0 1 1 31.8 0a15.9 15.7 0 1 1 -31.8 0zM851.7 673.4a10.8 10.6 0 1 0 21.6 0a10.8 10.6 0 1 0 -21.6 0zM851 677a15.9 15.7 0 1 1 31.8 0a15.9 15.7 0 1 1 -31.8 0zM856.1 677a10.8 10.6 0 1 0 21.6 0a10.8 10.6 0 1 0 -21.6 0zM855.3 680.5a15.9 15.7 0 1 1 31.8 0a15.9 15.7 0 1 1 -31.8 0zM860.4 680.5a10.8 10.6 0 1 0 21.6 0a10.8 10.6 0 1 0 -21.6 0zM859.4 683.8a15.9 15.7 0 1 1 31.8 0a15.9 15.7 0 1 1 -31.8 0zM864.5 683.8a10.8 10.6 0 1 0 21.6 0a10.8 10.6 0 1 0 -21.6 0zM863.3 687a15.9 15.7 0 1 1 31.8 0a15.9 15.7 0 1 1 -31.8 0zM868.4 687a10.8 10.6 0 1 0 21.6 0a10.8 10.6 0 1 0 -21.6 0zM867.1 690.2a15.9 15.7 0 1 1 31.8 0a15.9 15.7 0 1 1 -31.8 0zM872.2 690.2a10.8 10.6 0 1 0 21.6 0a10.8 10.6 0 1 0 -21.6 0zM870.8 693.3a15.9 15.7 0 1 1 31.8 0a15.9 15.7 0 1 1 -31.8 0zM875.9 693.3a10.8 10.6 0 1 0 21.6 0a10.8 10.6 0 1 0 -21.6 0zM874.3 696.3a15.9 15.7 0 1 1 31.8 0a15.9 15.7 0 1 1 -31.8 0zM879.4 696.3a10.8 10.6 0 1 0 21.6 0a10.8 10.6 0 1 0 -21.6 0zM877.8 699.3a15.9 15.7 0 1 1 31.8 0a15.9 15.7 0 1 1 -31.8 0zM882.9 699.3a10.8 10.6 0 1 0 21.6 0a10.8 10.6 0 1 0 -21.6 0zM881.1 702.1a15.9 15.7 0 1 1 31.8 0a15.9 15.7 0 1 1 -31.8 0zM886.2 702.1a10.8 10.6 0 1 0 21.6 0a10.8 10.6 0 1 0 -21.6 0zM884.3 704.9a15.9 15.7 0 1 1 31.8 0a15.9 15.7 0 1 1 -31.8 0zM889.4 704.9a10.8 10.6 0 1 0 21.6 0a10.8 10.6 0 1 0 -21.6 0zM887.4 707.7a15.9 15.7 0 1 1 31.8 0a15.9 15.7 0 1 1 -31.8 0zM892.5 707.7a10.8 10.6 0 1 0 21.6 0a10.8 10.6 0 1 0 -21.6 0zM890.4 710.5a15.9 15.7 0 1 1 31.8 0a15.9 15.7 0 1 1 -31.8 0zM895.5 710.5a10.8 10.6 0 1 0 21.6 0a10.8 10.6 0 1 0 -21.6 0zM893.4 713.2a15.9 15.7 0 1 1 31.8 0a15.9 15.7 0 1 1 -31.8 0zM898.5 713.2a10.8 10.6 0 1 0 21.6 0a10.8 10.6 0 1 0 -21.6 0zM896.2 715.8a15.9 15.7 0 1 1 31.8 0a15.9 15.7 0 1 1 -31.8 0zM901.3 715.8a10.8 10.6 0 1 0 21.6 0a10.8 10.6 0 1 0 -21.6 0zM899 718.4a15.9 15.7 0 1 1 31.8 0a15.9 15.7 0 1 1 -31.8 0zM904.1 718.4a10.8 10.6 0 1 0 21.6 0a10.8 10.6 0 1 0 -21.6 0zM901.7 720.8a15.9 15.7 0 1 1 31.8 0a15.9 15.7 0 1 1 -31.8 0zM906.8 720.8a10.8 10.6 0 1 0 21.6 0a10.8 10.6 0 1 0 -21.6 0zM904.3 723.2a15.9 15.7 0 1 1 31.8 0a15.9 15.7 0 1 1 -31.8 0zM909.4 723.2a10.8 10.6 0 1 0 21.6 0a10.8 10.6 0 1 0 -21.6 0zM906.9 725.5a15.9 15.7 0 1 1 31.8 0a15.9 15.7 0 1 1 -31.8 0zM912 725.5a10.8 10.6 0 1 0 21.6 0a10.8 10.6 0 1 0 -21.6 0zM909.4 727.7a15.9 15.7 0 1 1 31.8 0a15.9 15.7 0 1 1 -31.8 0zM914.5 727.7a10.8 10.6 0 1 0 21.6 0a10.8 10.6 0 1 0 -21.6 0zM911.9 730.3a15.9 15.7 0 1 1 31.8 0a15.9 15.7 0 1 1 -31.8 0zM917 730.3a10.8 10.6 0 1 0 21.6 0a10.8 10.6 0 1 0 -21.6 0zM914.3 733.5a15.9 15.7 0 1 1 31.8 0a15.9 15.7 0 1 1 -31.8 0zM919.4 733.5a10.8 10.6 0 1 0 21.6 0a10.8 10.6 0 1 0 -21.6 0zM916.6 736.3a15.9 15.7 0 1 1 31.8 0a15.9 15.7 0 1 1 -31.8 0zM921.7 736.3a10.8 10.6 0 1 0 21.6 0a10.8 10.6 0 1 0 -21.6 0zM918.9 737.4a15.9 15.7 0 1 1 31.8 0a15.9 15.7 0 1 1 -31.8 0zM924 737.4a10.8 10.6 0 1 0 21.6 0a10.8 10.6 0 1 0 -21.6 0zM921.1 737.5a15.9 15.7 0 1 1 31.8 0a15.9 15.7 0 1 1 -31.8 0zM926.2 737.5a10.8 10.6 0 1 0 21.6 0a10.8 10.6 0 1 0 -21.6 0zM925.2 748a15.9 15.7 0 1 1 31.8 0a15.9 15.7 0 1 1 -31.8 0zM930.3 748a10.8 10.6 0 1 0 21.6 0a10.8 10.6 0 1 0 -21.6 0zM933.3 758.5a15.9 15.7 0 1 1 31.8 0a15.9 15.7 0 1 1 -31.8 0zM938.4 758.5a10.8 10.6 0 1 0 21.6 0a10.8 10.6 0 1 0 -21.6 0zM940.9 769.5a15.9 15.7 0 1 1 31.8 0a15.9 15.7 0 1 1 -31.8 0zM946 769.5a10.8 10.6 0 1 0 21.6 0a10.8 10.6 0 1 0 -21.6 0zM948 780a15.9 15.7 0 1 1 31.8 0a15.9 15.7 0 1 1 -31.8 0zM953.1 780a10.8 10.6 0 1 0 21.6 0a10.8 10.6 0 1 0 -21.6 0zM954.6 789.3a15.9 15.7 0 1 1 31.8 0a15.9 15.7 0 1 1 -31.8 0zM959.7 789.3a10.8 10.6 0 1 0 21.6 0a10.8 10.6 0 1 0 -21.6 0zM960.8 799.5a15.9 15.7 0 1 1 31.8 0a15.9 15.7 0 1 1 -31.8 0zM965.9 799.5a10.8 10.6 0 1 0 21.6 0a10.8 10.6 0 1 0 -21.6 0zM966.7 809.8a15.9 15.7 0 1 1 31.8 0a15.9 15.7 0 1 1 -31.8 0zM971.8 809.8a10.8 10.6 0 1 0 21.6 0a10.8 10.6 0 1 0 -21.6 0zM972.3 821a15.9 15.7 0 1 1 31.8 0a15.9 15.7 0 1 1 -31.8 0zM977.4 821a10.8 10.6 0 1 0 21.6 0a10.8 10.6 0 1 0 -21.6 0zM977.5 836a15.9 15.7 0 1 1 31.8 0a15.9 15.7 0 1 1 -31.8 0zM982.6 836a10.8 10.6 0 1 0 21.6 0a10.8 10.6 0 1 0 -21.6 0zM982.5 852a15.9 15.7 0 1 1 31.8 0a15.9 15.7 0 1 1 -31.8 0zM987.6 852a10.8 10.6 0 1 0 21.6 0a10.8 10.6 0 1 0 -21.6 0zM987.3 869a15.9 15.7 0 1 1 31.8 0a15.9 15.7 0 1 1 -31.8 0zM992.4 869a10.8 10.6 0 1 0 21.6 0a10.8 10.6 0 1 0 -21.6 0zM991.9 889.3a15.9 15.7 0 1 1 31.8 0a15.9 15.7 0 1 1 -31.8 0zM997 889.3a10.8 10.6 0 1 0 21.6 0a10.8 10.6 0 1 0 -21.6 0zM996.3 913a15.9 15.7 0 1 1 31.8 0a15.9 15.7 0 1 1 -31.8 0zM1001.4 913a10.8 10.6 0 1 0 21.6 0a10.8 10.6 0 1 0 -21.6 0zM1000.5 939.4a15.9 15.7 0 1 1 31.8 0a15.9 15.7 0 1 1 -31.8 0zM1005.6 939.4a10.8 10.6 0 1 0 21.6 0a10.8 10.6 0 1 0 -21.6 0zM1004.5 980.3a15.9 15.7 0 1 1 31.8 0a15.9 15.7 0 1 1 -31.8 0zM1009.6 980.3a10.8 10.6 0 1 0 21.6 0a10.8 10.6 0 1 0 -21.6 0zM1008.4 1069.2a15.9 15.7 0 1 1 31.8 0a15.9 15.7 0 1 1 -31.8 0zM1013.5 1069.2a10.8 10.6 0 1 0 21.6 0a10.8 10.6 0 1 0 -21.6 0zM1422 1063.5a15.9 15.7 0 1 1 31.8 0a15.9 15.7 0 1 1 -31.8 0zM1427.1 1063.5a10.8 10.6 0 1 0 21.6 0a10.8 10.6 0 1 0 -21.6 0zM1425.8 1003.5a15.9 15.7 0 1 1 31.8 0a15.9 15.7 0 1 1 -31.8 0zM1430.9 1003.5a10.8 10.6 0 1 0 21.6 0a10.8 10.6 0 1 0 -21.6 0zM1430 968.7a15.9 15.7 0 1 1 31.8 0a15.9 15.7 0 1 1 -31.8 0zM1435.1 968.7a10.8 10.6 0 1 0 21.6 0a10.8 10.6 0 1 0 -21.6 0zM1433.9 945.5a15.9 15.7 0 1 1 31.8 0a15.9 15.7 0 1 1 -31.8 0zM1439 945.5a10.8 10.6 0 1 0 21.6 0a10.8 10.6 0 1 0 -21.6 0zM1437.8 930.8a15.9 15.7 0 1 1 31.8 0a15.9 15.7 0 1 1 -31.8 0zM1442.9 930.8a10.8 10.6 0 1 0 21.6 0a10.8 10.6 0 1 0 -21.6 0zM1441.6 920.4a15.9 15.7 0 1 1 31.8 0a15.9 15.7 0 1 1 -31.8 0zM1446.7 920.4a10.8 10.6 0 1 0 21.6 0a10.8 10.6 0 1 0 -21.6 0zM1445.5 912.7a15.9 15.7 0 1 1 31.8 0a15.9 15.7 0 1 1 -31.8 0zM1450.6 912.7a10.8 10.6 0 1 0 21.6 0a10.8 10.6 0 1 0 -21.6 0zM1449.4 907.6a15.9 15.7 0 1 1 31.8 0a15.9 15.7 0 1 1 -31.8 0zM1454.5 907.6a10.8 10.6 0 1 0 21.6 0a10.8 10.6 0 1 0 -21.6 0zM1452.9 904.4a15.9 15.7 0 1 1 31.8 0a15.9 15.7 0 1 1 -31.8 0zM1458 904.4a10.8 10.6 0 1 0 21.6 0a10.8 10.6 0 1 0 -21.6 0zM1456.8 902.1a15.9 15.7 0 1 1 31.8 0a15.9 15.7 0 1 1 -31.8 0zM1461.9 902.1a10.8 10.6 0 1 0 21.6 0a10.8 10.6 0 1 0 -21.6 0zM1460.3 901a15.9 15.7 0 1 1 31.8 0a15.9 15.7 0 1 1 -31.8 0zM1465.4 901a10.8 10.6 0 1 0 21.6 0a10.8 10.6 0 1 0 -21.6 0zM1462.9 900.7a15.9 15.7 0 1 1 31.8 0a15.9 15.7 0 1 1 -31.8 0zM1468 900.7a10.8 10.6 0 1 0 21.6 0a10.8 10.6 0 1 0 -21.6 0zM1465.4 900.9a15.9 15.7 0 1 1 31.8 0a15.9 15.7 0 1 1 -31.8 0zM1470.5 900.9a10.8 10.6 0 1 0 21.6 0a10.8 10.6 0 1 0 -21.6 0zM1468.5 901.7a15.9 15.7 0 1 1 31.8 0a15.9 15.7 0 1 1 -31.8 0zM1473.6 901.7a10.8 10.6 0 1 0 21.6 0a10.8 10.6 0 1 0 -21.6 0zM1471.6 903.7a15.9 15.7 0 1 1 31.8 0a15.9 15.7 0 1 1 -31.8 0zM1476.7 903.7a10.8 10.6 0 1 0 21.6 0a10.8 10.6 0 1 0 -21.6 0zM1474.7 905.6a15.9 15.7 0 1 1 31.8 0a15.9 15.7 0 1 1 -31.8 0zM1479.8 905.6a10.8 10.6 0 1 0 21.6 0a10.8 10.6 0 1 0 -21.6 0zM1477.4 908.3a15.9 15.7 0 1 1 31.8 0a15.9 15.7 0 1 1 -31.8 0zM1482.5 908.3a10.8 10.6 0 1 0 21.6 0a10.8 10.6 0 1 0 -21.6 0zM1480.1 912.2a15.9 15.7 0 1 1 31.8 0a15.9 15.7 0 1 1 -31.8 0zM1485.2 912.2a10.8 10.6 0 1 0 21.6 0a10.8 10.6 0 1 0 -21.6 0zM1482.4 916.1a15.9 15.7 0 1 1 31.8 0a15.9 15.7 0 1 1 -31.8 0zM1487.5 916.1a10.8 10.6 0 1 0 21.6 0a10.8 10.6 0 1 0 -21.6 0zM1485.1 922.7a15.9 15.7 0 1 1 31.8 0a15.9 15.7 0 1 1 -31.8 0zM1490.2 922.7a10.8 10.6 0 1 0 21.6 0a10.8 10.6 0 1 0 -21.6 0zM1487.1 928.1a15.9 15.7 0 1 1 31.8 0a15.9 15.7 0 1 1 -31.8 0zM1492.2 928.1a10.8 10.6 0 1 0 21.6 0a10.8 10.6 0 1 0 -21.6 0zM1489.4 934.6a15.9 15.7 0 1 1 31.8 0a15.9 15.7 0 1 1 -31.8 0zM1494.5 934.6a10.8 10.6 0 1 0 21.6 0a10.8 10.6 0 1 0 -21.6 0zM1492.1 943.5a15.9 15.7 0 1 1 31.8 0a15.9 15.7 0 1 1 -31.8 0zM1497.2 943.5a10.8 10.6 0 1 0 21.6 0a10.8 10.6 0 1 0 -21.6 0zM1494.1 957.4a15.9 15.7 0 1 1 31.8 0a15.9 15.7 0 1 1 -31.8 0zM1499.2 957.4a10.8 10.6 0 1 0 21.6 0a10.8 10.6 0 1 0 -21.6 0zM1496.4 974.2a15.9 15.7 0 1 1 31.8 0a15.9 15.7 0 1 1 -31.8 0zM1501.5 974.2a10.8 10.6 0 1 0 21.6 0a10.8 10.6 0 1 0 -21.6 0zM1498.1 1014.9a15.9 15.7 0 1 1 31.8 0a15.9 15.7 0 1 1 -31.8 0zM1503.2 1014.9a10.8 10.6 0 1 0 21.6 0a10.8 10.6 0 1 0 -21.6 0z"/>
<path fill="#0000ff" d="M394.6 422.2h4.7l16.3 28.3v4.7h-37.3v-4.7zM397 431.1l-11.4 19.5h22.8zM466.4 449.1h4.7l16.3 28.3v4.7h-37.3v-4.7zM468.7 457.9l-11.4 19.5h22.8zM508.3 462.1h4.7l16.3 28.3v4.7h-37.3v-4.7zM510.7 470.9l-11.4 19.5h22.8zM538.1 475.2h4.7l16.3 28.3v4.7h-37.3v-4.7zM540.4 484l-11.4 19.5h22.8zM561.2 485.3h4.7l16.3 28.3v4.7h-37.3v-4.7zM563.5 494.1l-11.4 19.5h22.8zM580 493.9h4.7l16.3 28.3v4.7h-37.3v-4.7zM582.4 502.7l-11.4 19.5h22.8zM596 500.3h4.7l16.3 28.3v4.7h-37.3v-4.7zM598.3 509.1l-11.4 19.5h22.8zM609.8 507h4.7l16.3 28.3v4.7h-37.3v-4.7zM612.2 515.8l-11.4 19.5h22.8zM622 512.4h4.7l16.3 28.3v4.7h-37.3v-4.7zM624.3 521.2l-11.4 19.5h22.8zM632.9 517.2h4.7l16.3 28.3v4.7h-37.3v-4.7zM635.2 526l-11.4 19.5h22.8zM642.8 521.5h4.7l16.3 28.3v4.7h-37.3v-4.7zM645.1 530.3l-11.4 19.5h22.8zM651.8 525.5h4.7l16.3 28.3v4.7h-37.3v-4.7zM654.1 534.3l-11.4 19.5h22.8zM660 529.7h4.7l16.3 28.3v4.7h-37.3v-4.7zM662.4 538.5l-11.4 19.5h22.8zM667.7 533.4h4.7l16.3 28.3v4.7h-37.3v-4.7zM670.1 542.2l-11.4 19.5h22.8zM674.8 536.6h4.7l16.3 28.3v4.7h-37.3v-4.7zM677.2 545.4l-11.4 19.5h22.8zM681.5 539.5h4.7l16.3 28.3v4.7h-37.3v-4.7zM683.9 548.3l-11.4 19.5h22.8zM687.8 542.2h4.7l16.3 28.3v4.7h-37.3v-4.7zM690.1 551l-11.4 19.5h22.8zM693.7 544.7h4.7l16.3 28.3v4.7h-37.3v-4.7zM696.1 553.5l-11.4 19.5h22.8zM699.3 547.1h4.7l16.3 28.3v4.7h-37.3v-4.7zM701.7 555.9l-11.4 19.5h22.8zM704.6 549.5h4.7l16.3 28.3v4.7h-37.3v-4.7zM707 558.3l-11.4 19.5h22.8zM709.7 551.7h4.7l16.3 28.3v4.7h-37.3v-4.7zM712 560.5l-11.4 19.5h22.8zM714.5 553.8h4.7l16.3 28.3v4.7h-37.3v-4.7zM716.8 562.6l-11.4 19.5h22.8zM719.1 555.8h4.7l16.3 28.3v4.7h-37.3v-4.7zM721.4 564.6l-11.4 19.5h22.8zM723.5 557.8h4.7l16.3 28.3v4.7h-37.3v-4.7zM725.8 566.6l-11.4 19.5h22.8zM727.7 559.6h4.7l16.3 28.3v4.7h-37.3v-4.7zM730 568.4l-11.4 19.5h22.8zM735.7 564.4h4.7l16.3 28.3v4.7h-37.3v-4.7zM738 573.2l-11.4 19.5h22.8zM743.1 567.9h4.7l16.3 28.3v4.7h-37.3v-4.7zM745.4 576.7l-11.4 19.5h22.8zM750 571.1h4.7l16.3 28.3v4.7h-37.3v-4.7zM752.3 579.9l-11.4 19.5h22.8zM756.4 574.3h4.7l16.3 28.3v4.7h-37.3v-4.7zM758.8 583.1l-11.4 19.5h22.8zM762.5 577.5h4.7l16.3 28.3v4.7h-37.3v-4.7zM764.9 586.3l-11.4 19.5h22.8zM768.3 580.4h4.7l16.3 28.3v4.7h-37.3v-4.7zM770.6 589.2l-11.4 19.5h22.8zM773.7 583.5h4.7l16.3 28.3v4.7h-37.3v-4.7zM776.1 592.3l-11.4 19.5h22.8zM778.9 586.4h4.7l16.3 28.3v4.7h-37.3v-4.7zM781.2 595.2l-11.4 19.5h22.8zM783.8 589.2h4.7l16.3 28.3v4.7h-37.3v-4.7zM786.2 598l-11.4 19.5h22.8zM788.5 591.8h4.7l16.3 28.3v4.7h-37.3v-4.7zM790.9 600.6l-11.4 19.5h22.8zM793 594.4h4.7l16.3 28.3v4.7h-37.3v-4.7zM795.4 603.2l-11.4 19.5h22.8zM797.3 596.8h4.7l16.3 28.3v4.7h-37.3v-4.7zM799.7 605.6l-11.4 19.5h22.8zM801.5 599.3h4.7l16.3 28.3v4.7h-37.3v-4.7zM803.8 608.1l-11.4 19.5h22.8zM805.4 601.9h4.7l16.3 28.3v4.7h-37.3v-4.7zM807.8 610.7l-11.4 19.5h22.8zM809.3 604.3h4.7l16.3 28.3v4.7h-37.3v-4.7zM811.6 613.1l-11.4 19.5h22.8zM816.5 608.9h4.7l16.3 28.3v4.7h-37.3v-4.7zM818.9 617.7l-11.4 19.5h22.8zM823.3 613.6h4.7l16.3 28.3v4.7h-37.3v-4.7zM825.7 622.4l-11.4 19.5h22.8zM829.7 618.2h4.7l16.3 28.3v4.7h-37.3v-4.7zM832 627l-11.4 19.5h22.8zM835.7 622.3h4.7l16.3 28.3v4.7h-37.3v-4.7zM838 631.1l-11.4 19.5h22.8zM841.4 626.3h4.7l16.3 28.3v4.7h-37.3v-4.7zM843.7 635.1l-11.4 19.5h22.8zM846.7 630.1h4.7l16.3 28.3v4.7h-37.3v-4.7zM849.1 638.9l-11.4 19.5h22.8zM851.9 633.9h4.7l16.3 28.3v4.7h-37.3v-4.7zM854.2 642.7l-11.4 19.5h22.8zM856.7 637.6h4.7l16.3 28.3v4.7h-37.3v-4.7zM859.1 646.4l-11.4 19.5h22.8zM861.4 641.2h4.7l16.3 28.3v4.7h-37.3v-4.7zM863.7 650l-11.4 19.5h22.8zM865.8 644.6h4.7l16.3 28.3v4.7h-37.3v-4.7zM868.2 653.4l-11.4 19.5h22.8zM870.1 647.9h4.7l16.3 28.3v4.7h-37.3v-4.7zM872.4 656.7l-11.4 19.5h22.8zM874.2 651h4.7l16.3 28.3v4.7h-37.3v-4.7zM876.5 659.8l-11.4 19.5h22.8zM878.1 654.1h4.7l16.3 28.3v4.7h-37.3v-4.7zM880.5 662.9l-11.4 19.5h22.8zM881.9 657.1h4.7l16.3 28.3v4.7h-37.3v-4.7zM884.3 665.9l-11.4 19.5h22.8zM885.6 660.1h4.7l16.3 28.3v4.7h-37.3v-4.7zM887.9 668.9l-11.4 19.5h22.8zM889.1 663h4.7l16.3 28.3v4.7h-37.3v-4.7zM891.5 671.8l-11.4 19.5h22.8zM892.6 665.8h4.7l16.3 28.3v4.7h-37.3v-4.7zM894.9 674.6l-11.4 19.5h22.8zM895.9 668.5h4.7l16.3 28.3v4.7h-37.3v-4.7zM898.2 677.3l-11.4 19.5h22.8zM899.1 671.2h4.7l16.3 28.3v4.7h-37.3v-4.7zM901.4 680l-11.4 19.5h22.8zM902.2 673.9h4.7l16.3 28.3v4.7h-37.3v-4.7zM904.5 682.7l-11.4 19.5h22.8zM905.2 676.6h4.7l16.3 28.3v4.7h-37.3v-4.7zM907.6 685.4l-11.4 19.5h22.8zM908.1 679.2h4.7l16.3 28.3v4.7h-37.3v-4.7zM910.5 688l-11.4 19.5h22.8zM911 681.7h4.7l16.3 28.3v4.7h-37.3v-4.7zM913.3 690.5l-11.4 19.5h22.8zM913.8 684.2h4.7l16.3 28.3v4.7h-37.3v-4.7zM916.1 693l-11.4 19.5h22.8zM916.5 686.5h4.7l16.3 28.3v4.7h-37.3v-4.7zM918.8 695.3l-11.4 19.5h22.8zM919.1 688.7h4.7l16.3 28.3v4.7h-37.3v-4.7zM921.5 697.5l-11.4 19.5h22.8zM921.7 690.9h4.7l16.3 28.3v4.7h-37.3v-4.7zM924 699.7l-11.4 19.5h22.8zM924.2 693.1h4.7l16.3 28.3v4.7h-37.3v-4.7zM926.5 701.9l-11.4 19.5h22.8zM926.6 695.2h4.7l16.3 28.3v4.7h-37.3v-4.7zM929 704l-11.4 19.5h22.8zM929 697.2h4.7l16.3 28.3v4.7h-37.3v-4.7zM931.4 706l-11.4 19.5h22.8zM931.4 698.8h4.7l16.3 28.3v4.7h-37.3v-4.7zM933.7 707.5l-11.4 19.5h22.8zM933.7 698.8h4.7l16.3 28.3v4.7h-37.3v-4.7zM936 707.5l-11.4 19.5h22.8zM935.9 698.8h4.7l16.3 28.3v4.7h-37.3v-4.7zM938.2 707.5l-11.4 19.5h22.8zM939.9 705.5h4.7l16.3 28.3v4.7h-37.3v-4.7zM942.3 714.2l-11.4 19.5h22.8zM948.1 717.9h4.7l16.3 28.3v4.7h-37.3v-4.7zM950.4 726.6l-11.4 19.5h22.8zM955.7 730.2h4.7l16.3 28.3v4.7h-37.3v-4.7zM958 739l-11.4 19.5h22.8zM962.8 741.5h4.7l16.3 28.3v4.7h-37.3v-4.7zM965.1 750.2l-11.4 19.5h22.8zM969.4 751.4h4.7l16.3 28.3v4.7h-37.3v-4.7zM971.7 760.1l-11.4 19.5h22.8zM975.6 761.2h4.7l16.3 28.3v4.7h-37.3v-4.7zM977.9 770l-11.4 19.5h22.8zM981.5 771.2h4.7l16.3 28.3v4.7h-37.3v-4.7zM983.8 780l-11.4 19.5h22.8zM987 781.1h4.7l16.3 28.3v4.7h-37.3v-4.7zM989.4 789.9l-11.4 19.5h22.8zM992.3 793.6h4.7l16.3 28.3v4.7h-37.3v-4.7zM994.6 802.4l-11.4 19.5h22.8zM997.3 804.9h4.7l16.3 28.3v4.7h-37.3v-4.7zM999.6 813.6l-11.4 19.5h22.8zM1001.6 816.8h4.7l16.3 28.3v4.7h-37.3v-4.7zM1004 825.5l-11.4 19.5h22.8zM1005.6 829.8h4.7l16.3 28.3v4.7h-37.3v-4.7zM1007.9 838.5l-11.4 19.5h22.8zM1009.4 843.8h4.7l16.3 28.3v4.7h-37.3v-4.7zM1011.7 852.5l-11.4 19.5h22.8zM1013 858.8h4.7l16.3 28.3v4.7h-37.3v-4.7zM1015.4 867.5l-11.4 19.5h22.8zM1016.6 876.2h4.7l16.3 28.3v4.7h-37.3v-4.7zM1018.9 885l-11.4 19.5h22.8zM1020.5 897.4h4.7l16.3 28.3v4.7h-37.3v-4.7zM1022.8 906.1l-11.4 19.5h22.8zM1024.2 934.8h4.7l16.3 28.3v4.7h-37.3v-4.7zM1026.5 943.5l-11.4 19.5h22.8zM1027.8 996.8h4.7l16.3 28.3v4.7h-37.3v-4.7zM1030.2 1005.5l-11.4 19.5h22.8zM1437.6 1006.5h4.7l16.3 28.3v4.7h-37.3v-4.7zM1439.9 1015.3l-11.4 19.5h22.8zM1441.4 958.7h4.7l16.3 28.3v4.7h-37.3v-4.7zM1443.7 967.5l-11.4 19.5h22.8zM1445.6 931.9h4.7l16.3 28.3v4.7h-37.3v-4.7zM1447.9 940.7l-11.4 19.5h22.8zM1449.5 913.7h4.7l16.3 28.3v4.7h-37.3v-4.7zM1451.8 922.5l-11.4 19.5h22.8zM1453.4 902.2h4.7l16.3 28.3v4.7h-37.3v-4.7zM1455.7 911l-11.4 19.5h22.8zM1457.2 893.8h4.7l16.3 28.3v4.7h-37.3v-4.7zM1459.5 902.6l-11.4 19.5h22.8zM1461.1 887.3h4.7l16.3 28.3v4.7h-37.3v-4.7zM1463.4 896.1l-11.4 19.5h22.8zM1465 882.8h4.7l16.3 28.3v4.7h-37.3v-4.7zM1467.3 891.6l-11.4 19.5h22.8zM1468.5 880h4.7l16.3 28.3v4.7h-37.3v-4.7zM1470.8 888.8l-11.4 19.5h22.8zM1472.4 878h4.7l16.3 28.3v4.7h-37.3v-4.7zM1474.7 886.8l-11.4 19.5h22.8zM1475.9 877.1h4.7l16.3 28.3v4.7h-37.3v-4.7zM1478.2 885.9l-11.4 19.5h22.8zM1478.5 876.9h4.7l16.3 28.3v4.7h-37.3v-4.7zM1480.8 885.7l-11.4 19.5h22.8zM1481 877.1h4.7l16.3 28.3v4.7h-37.3v-4.7zM1483.3 885.9l-11.4 19.5h22.8zM1484.1 878h4.7l16.3 28.3v4.7h-37.3v-4.7zM1486.4 886.8l-11.4 19.5h22.8zM1487.2 880h4.7l16.3 28.3v4.7h-37.3v-4.7zM1489.5 888.8l-11.4 19.5h22.8zM1490.2 881.9h4.7l16.3 28.3v4.7h-37.3v-4.7zM1492.6 890.7l-11.4 19.5h22.8zM1493 884.6h4.7l16.3 28.3v4.7h-37.3v-4.7zM1495.3 893.4l-11.4 19.5h22.8zM1495.7 888.5h4.7l16.3 28.3v4.7h-37.3v-4.7zM1498 897.3l-11.4 19.5h22.8zM1498 892.4h4.7l16.3 28.3v4.7h-37.3v-4.7zM1500.3 901.2l-11.4 19.5h22.8zM1500.7 899h4.7l16.3 28.3v4.7h-37.3v-4.7zM1503 907.8l-11.4 19.5h22.8zM1502.7 905.4h4.7l16.3 28.3v4.7h-37.3v-4.7zM1505 914.1l-11.4 19.5h22.8zM1505 912.9h4.7l16.3 28.3v4.7h-37.3v-4.7zM1507.3 921.6l-11.4 19.5h22.8zM1507.7 922.8h4.7l16.3 28.3v4.7h-37.3v-4.7zM1510 931.5l-11.4 19.5h22.8zM1509.7 937.6h4.7l16.3 28.3v4.7h-37.3v-4.7zM1512 946.4l-11.4 19.5h22.8zM1512 959.2h4.7l16.3 28.3v4.7h-37.3v-4.7zM1514.3 968l-11.4 19.5h22.8zM1513.7 988.2h4.7l16.3 28.3v4.7h-37.3v-4.7zM1516 997l-11.4 19.5h22.8z"/>
<path fill="#008000" d="M379.4 424.1h32v31.2h-32zM384.5 428.9v21.6h21.8v-21.6zM451.2 437.7h32v31.2h-32zM456.3 442.5v21.6h21.8v-21.6zM493.2 451.5h32v31.2h-32zM498.3 456.3v21.6h21.8v-21.6zM522.9 464.2h32v31.2h-32zM528 469v21.6h21.8v-21.6zM546 474.4h32v31.2h-32zM551.1 479.2v21.6h21.8v-21.6zM564.9 483.1h32v31.2h-32zM570 487.9v21.6h21.8v-21.6zM580.9 489.5h32v31.2h-32zM586 494.3v21.6h21.8v-21.6zM594.7 496.3h32v31.2h-32zM599.8 501.1v21.6h21.8v-21.6zM606.9 501.7h32v31.2h-32zM612 506.5v21.6h21.8v-21.6zM617.8 506.5h32v31.2h-32zM622.9 511.3v21.6h21.8v-21.6zM627.7 510.9h32v31.2h-32zM632.8 515.7v21.6h21.8v-21.6zM636.7 514.9h32v31.2h-32zM641.8 519.7v21.6h21.8v-21.6zM645 519.2h32v31.2h-32zM650.1 524v21.6h21.8v-21.6zM652.7 522.9h32v31.2h-32zM657.8 527.7v21.6h21.8v-21.6zM659.8 526.1h32v31.2h-32zM664.9 530.9v21.6h21.8v-21.6zM666.5 529.2h32v31.2h-32zM671.6 534v21.6h21.8v-21.6zM672.8 532h32v31.2h-32zM677.9 536.8v21.6h21.8v-21.6zM678.7 534.7h32v31.2h-32zM683.8 539.5v21.6h21.8v-21.6zM684.3 537.4h32v31.2h-32zM689.4 542.2v21.6h21.8v-21.6zM689.6 539.9h32v31.2h-32zM694.7 544.7v21.6h21.8v-21.6zM694.6 542.3h32v31.2h-32zM699.7 547.1v21.6h21.8v-21.6zM699.5 544.6h32v31.2h-32zM704.6 549.4v21.6h21.8v-21.6zM704.1 546.8h32v31.2h-32zM709.2 551.6v21.6h21.8v-21.6zM708.5 548.9h32v31.2h-32zM713.6 553.7v21.6h21.8v-21.6zM712.7 550.9h32v31.2h-32zM717.8 555.7v21.6h21.8v-21.6zM720.7 555.9h32v31.2h-32zM725.8 560.7v21.6h21.8v-21.6zM728.1 559.7h32v31.2h-32zM733.2 564.5v21.6h21.8v-21.6zM735 563.2h32v31.2h-32zM740.1 568v21.6h21.8v-21.6zM741.4 566.4h32v31.2h-32zM746.5 571.2v21.6h21.8v-21.6zM747.5 569.5h32v31.2h-32zM752.6 574.3v21.6h21.8v-21.6zM753.3 572.4h32v31.2h-32zM758.4 577.2v21.6h21.8v-21.6zM758.7 575.4h32v31.2h-32zM763.8 580.2v21.6h21.8v-21.6zM763.9 578.3h32v31.2h-32zM769 583.1v21.6h21.8v-21.6zM768.8 581h32v31.2h-32zM773.9 585.8v21.6h21.8v-21.6zM773.6 583.6h32v31.2h-32zM778.7 588.4v21.6h21.8v-21.6zM778.1 586.1h32v31.2h-32zM783.2 590.9v21.6h21.8v-21.6zM782.4 588.5h32v31.2h-32zM787.5 593.3v21.6h21.8v-21.6zM786.5 591h32v31.2h-32zM791.6 595.8v21.6h21.8v-21.6zM790.5 593.5h32v31.2h-32zM795.6 598.3v21.6h21.8v-21.6zM794.3 595.9h32v31.2h-32zM799.4 600.7v21.6h21.8v-21.6zM801.6 600.4h32v31.2h-32zM806.7 605.2v21.6h21.8v-21.6zM808.4 605h32v31.2h-32zM813.5 609.8v21.6h21.8v-21.6zM814.8 609.5h32v31.2h-32zM819.9 614.3v21.6h21.8v-21.6zM820.8 613.8h32v31.2h-32zM825.9 618.6v21.6h21.8v-21.6zM826.4 617.8h32v31.2h-32zM831.5 622.6v21.6h21.8v-21.6zM831.8 621.6h32v31.2h-32zM836.9 626.4v21.6h21.8v-21.6zM836.9 625.4h32v31.2h-32zM842 630.2v21.6h21.8v-21.6zM841.8 629.2h32v31.2h-32zM846.9 634v21.6h21.8v-21.6zM846.5 632.8h32v31.2h-32zM851.6 637.6v21.6h21.8v-21.6zM850.9 636.2h32v31.2h-32zM856 641v21.6h21.8v-21.6zM855.2 639.6h32v31.2h-32zM860.3 644.4v21.6h21.8v-21.6zM859.3 642.7h32v31.2h-32zM864.4 647.5v21.6h21.8v-21.6zM863.2 645.8h32v31.2h-32zM868.3 650.6v21.6h21.8v-21.6zM867 648.9h32v31.2h-32zM872.1 653.7v21.6h21.8v-21.6zM870.7 651.9h32v31.2h-32zM875.8 656.7v21.6h21.8v-21.6zM874.2 654.9h32v31.2h-32zM879.3 659.7v21.6h21.8v-21.6zM877.7 657.7h32v31.2h-32zM882.8 662.5v21.6h21.8v-21.6zM881 660.4h32v31.2h-32zM886.1 665.2v21.6h21.8v-21.6zM884.2 663.1h32v31.2h-32zM889.3 667.9v21.6h21.8v-21.6zM887.3 665.8h32v31.2h-32zM892.4 670.6v21.6h21.8v-21.6zM890.3 668.5h32v31.2h-32zM895.4 673.3v21.6h21.8v-21.6zM893.3 671.2h32v31.2h-32zM898.4 676v21.6h21.8v-21.6zM896.1 673.7h32v31.2h-32zM901.2 678.5v21.6h21.8v-21.6zM898.9 676.2h32v31.2h-32zM904 681v21.6h21.8v-21.6zM901.6 678.5h32v31.2h-32zM906.7 683.3v21.6h21.8v-21.6zM904.2 680.8h32v31.2h-32zM909.3 685.6v21.6h21.8v-21.6zM906.8 683h32v31.2h-32zM911.9 687.8v21.6h21.8v-21.6zM909.3 685.2h32v31.2h-32zM914.4 690v21.6h21.8v-21.6zM911.8 687.3h32v31.2h-32zM916.9 692.1v21.6h21.8v-21.6zM914.2 689.3h32v31.2h-32zM919.3 694.1v21.6h21.8v-21.6zM916.5 690.9h32v31.2h-32zM921.6 695.7v21.6h21.8v-21.6zM918.8 690.9h32v31.2h-32zM923.9 695.7v21.6h21.8v-21.6zM921 690.9h32v31.2h-32zM926.1 695.7v21.6h21.8v-21.6zM925.1 697.6h32v31.2h-32zM930.2 702.4v21.6h21.8v-21.6zM933.2 708.5h32v31.2h-32zM938.3 713.3v21.6h21.8v-21.6zM940.8 717.4h32v31.2h-32zM945.9 722.2v21.6h21.8v-21.6zM947.9 727.4h32v31.2h-32zM953 732.2v21.6h21.8v-21.6zM954.5 737.1h32v31.2h-32zM959.6 741.9v21.6h21.8v-21.6zM960.7 747.5h32v31.2h-32zM965.8 752.3v21.6h21.8v-21.6zM966.6 757.2h32v31.2h-32zM971.7 762v21.6h21.8v-21.6zM972.2 768.4h32v31.2h-32zM977.3 773.2v21.6h21.8v-21.6zM977.4 778.9h32v31.2h-32zM982.5 783.7v21.6h21.8v-21.6zM982.4 791.3h32v31.2h-32zM987.5 796.1v21.6h21.8v-21.6zM987.2 803.4h32v31.2h-32zM992.3 808.2v21.6h21.8v-21.6zM991.8 817.4h32v31.2h-32zM996.9 822.2v21.6h21.8v-21.6zM996.2 833.6h32v31.2h-32zM1001.3 838.4v21.6h21.8v-21.6zM1000.4 851.3h32v31.2h-32zM1005.5 856.1v21.6h21.8v-21.6zM1004.4 873.7h32v31.2h-32zM1009.5 878.5v21.6h21.8v-21.6zM1008.3 902.7h32v31.2h-32zM1013.4 907.5v21.6h21.8v-21.6zM1012 945.7h32v31.2h-32zM1017.1 950.5v21.6h21.8v-21.6zM1015.7 1044.4h32v31.2h-32zM1020.8 1049.2v21.6h21.8v-21.6zM1421.9 976.9h32v31.2h-32zM1427 981.7v21.6h21.8v-21.6zM1425.7 941.2h32v31.2h-32zM1430.8 946v21.6h21.8v-21.6zM1429.9 920.3h32v31.2h-32zM1435 925.1v21.6h21.8v-21.6zM1433.8 905.1h32v31.2h-32zM1438.9 909.9v21.6h21.8v-21.6zM1437.7 895h32v31.2h-32zM1442.8 899.8v21.6h21.8v-21.6zM1441.5 887.3h32v31.2h-32zM1446.6 892.1v21.6h21.8v-21.6zM1445.4 881.1h32v31.2h-32zM1450.5 885.9v21.6h21.8v-21.6zM1449.3 876.8h32v31.2h-32zM1454.4 881.6v21.6h21.8v-21.6zM1452.8 874.1h32v31.2h-32zM1457.9 878.9v21.6h21.8v-21.6zM1456.7 872.1h32v31.2h-32zM1461.8 876.9v21.6h21.8v-21.6zM1460.2 871.2h32v31.2h-32zM1465.3 876v21.6h21.8v-21.6zM1462.8 871h32v31.2h-32zM1467.9 875.8v21.6h21.8v-21.6zM1465.3 871.2h32v31.2h-32zM1470.4 876v21.6h21.8v-21.6zM1468.4 872.1h32v31.2h-32zM1473.5 876.9v21.6h21.8v-21.6zM1471.5 874.1h32v31.2h-32zM1476.6 878.9v21.6h21.8v-21.6zM1474.6 876h32v31.2h-32zM1479.7 880.8v21.6h21.8v-21.6zM1477.3 878.7h32v31.2h-32zM1482.4 883.5v21.6h21.8v-21.6zM1480 882.6h32v31.2h-32zM1485.1 887.4v21.6h21.8v-21.6zM1482.3 886.5h32v31.2h-32zM1487.4 891.3v21.6h21.8v-21.6zM1485 893.1h32v31.2h-32zM1490.1 897.9v21.6h21.8v-21.6zM1487 900.5h32v31.2h-32zM1492.1 905.3v21.6h21.8v-21.6zM1489.3 909h32v31.2h-32zM1494.4 913.8v21.6h21.8v-21.6zM1492 919.9h32v31.2h-32zM1497.1 924.7v21.6h21.8v-21.6zM1494 935.8h32v31.2h-32zM1499.1 940.6v21.6h21.8v-21.6zM1496.3 955.6h32v31.2h-32zM1501.4 960.4v21.6h21.8v-21.6zM1498 991.3h32v31.2h-32zM1503.1 996.1v21.6h21.8v-21.6z"/>
</g>
<g id="ticklabels">
<text x="168.2" y="83.9" font-size="87.5" textLength="83.1" lengthAdjust="spacing">10</text>
<text x="250.3" y="44.4" font-size="60.5">6</text>
<text x="168.2" y="253.6" font-size="87.5" textLength="83.1" lengthAdjust="spacing">10</text>
<text x="249.4" y="214.1" font-size="60.5">5</text>
<text x="168.2" y="423.2" font-size="87.5" textLength="83.1" lengthAdjust="spacing">10</text>
<text x="251.7" y="383.7" font-size="60.5">4</text>
<text x="168.2" y="592.9" font-size="87.5" textLength="83.1" lengthAdjust="spacing">10</text>
<text x="250.0" y="553.4" font-size="60.5">3</text>
<text x="168.2" y="762.6" font-size="87.5" textLength="83.1" lengthAdjust="spacing">10</text>
<text x="250.2" y="723.1" font-size="60.5">2</text>
<text x="168.2" y="932.2" font-size="87.5" textLength="83.1" lengthAdjust="spacing">10</text>
<text x="247.6" y="892.7" font-size="60.5">1</text>
<text x="168.2" y="1101.9" font-size="87.5" textLength="83.1" lengthAdjust="spacing">10</text>
<text x="250.6" y="1062.4" font-size="60.5">0</text>
<text x="265.0" y="1175.8" font-size="87.5" textLength="83.4" lengthAdjust="spacing">10</text>
<text x="348.5" y="1136.3" font-size="60.5">-5</text>
<text x="503.5" y="1175.8" font-size="87.5" textLength="83.4" lengthAdjust="spacing">10</text>
<text x="586.9" y="1136.3" font-size="60.5">-4</text>
<text x="741.9" y="1175.8" font-size="87.5" textLength="83.4" lengthAdjust="spacing">10</text>
<text x="825.4" y="1136.3" font-size="60.5">-3</text>
<text x="980.3" y="1175.8" font-size="87.5" textLength="83.4" lengthAdjust="spacing">10</text>
<text x="1063.8" y="1136.3" font-size="60.5">-2</text>
<text x="1218.7" y="1175.8" font-size="87.5" textLength="83.4" lengthAdjust="spacing">10</text>
<text x="1302.2" y="1136.3" font-size="60.5">-1</text>
<text x="1457.1" y="1175.8" font-size="87.5" textLength="83.4" lengthAdjust="spacing">10</text>
<text x="1542.7" y="1136.3" font-size="60.5">0</text>
<text x="1695.5" y="1175.8" font-size="87.5" textLength="83.4" lengthAdjust="spacing">10</text>
<text x="1778.1" y="1136.3" font-size="60.5">1</text>
</g>
<g id="titles">
<text x="450.6" y="1271.4" font-size="86.5">Non-dimensional co-ordinate</text>
<text x="1492.1" y="1271.4" font-size="86.5" font-style="italic">r</text>
<g transform="translate(101.5 959.6) rotate(-90)">
<text x="0.0" y="0.0" font-size="96.0" textLength="229.4" lengthAdjust="spacing">Stress</text>
<text transform="translate(253.2 0.0) scale(1.000 1)" font-size="82.0" font-style="italic" font-family="'DejaVu Serif', 'Liberation Serif', serif">τ</text>
<text x="288.0" y="19.0" font-size="67.0" textLength="58.6" lengthAdjust="spacing" font-style="italic">xy</text>
<text x="373.0" y="0.0" font-size="96.0">,</text>
<text transform="translate(422.3 0.0) scale(1.080 1)" font-size="81.0" font-style="italic" font-family="'DejaVu Serif', 'Liberation Serif', serif">σ</text>
<text x="473.7" y="19.0" font-size="67.0" font-style="italic">x</text>
<text x="501.7" y="0.0" font-size="96.0" textLength="242.9" lengthAdjust="spacing">[MPa]</text>
</g>
</g>
<g id="boxes" shape-rendering="crispEdges">
<rect x="834.0" y="110.0" width="481.0" height="121.0" fill="#fff"/><rect x="844.0" y="118.0" width="471.0" height="113.0" fill="#000"/><rect x="836.5" y="110.5" width="466.0" height="108.0" fill="#fff" stroke="#000" stroke-width="5.0"/>
<rect x="854.0" y="456.0" width="451.0" height="142.0" fill="#fff"/><rect x="864.0" y="464.0" width="441.0" height="134.0" fill="#000"/><rect x="856.5" y="456.5" width="436.0" height="129.0" fill="#fff" stroke="#000" stroke-width="5.0"/>
<rect x="354.0" y="721.0" width="522.0" height="152.0" fill="#fff"/><rect x="364.0" y="729.0" width="512.0" height="144.0" fill="#000"/><rect x="356.5" y="721.5" width="507.0" height="139.0" fill="#fff" stroke="#000" stroke-width="5.0"/>
<rect x="384.0" y="894.0" width="461.0" height="142.0" fill="#fff"/><rect x="394.0" y="902.0" width="451.0" height="134.0" fill="#000"/><rect x="386.5" y="894.5" width="446.0" height="129.0" fill="#fff" stroke="#000" stroke-width="5.0"/>
<rect x="1345.0" y="18.0" width="522.0" height="386.0" fill="#fff"/><rect x="1355.0" y="26.0" width="512.0" height="378.0" fill="#000"/><rect x="1347.5" y="18.5" width="507.0" height="373.0" fill="#fff" stroke="#000" stroke-width="5.0"/>
</g>
<g id="boxtext">
<text x="865.8" y="202.4" font-size="88.0" textLength="410.5" lengthAdjust="spacing">Shear stress</text>
<text x="875.6" y="558.0" font-size="88.0" textLength="403.4" lengthAdjust="spacing">Axial stress</text>
<text transform="translate(382.4 813.4) scale(1.000 1)" font-size="82.0" font-style="italic" font-family="'DejaVu Serif', 'Liberation Serif', serif">τ</text>
<text x="416.4" y="832.2" font-size="66.0" textLength="49.4" lengthAdjust="spacing" font-style="italic">m</text>
<text x="462.3" y="813.1" font-size="96.0" textLength="378.2" lengthAdjust="spacing">=150MPa</text>
<text x="423.6" y="999.9" font-size="95.0" font-style="italic">H</text>
<text x="488.2" y="999.9" font-size="95.5" textLength="320.2" lengthAdjust="spacing">=1.2mm</text>
<text transform="translate(1394.9 110.6) scale(1.000 1)" font-size="75.5" font-style="italic" font-family="'DejaVu Serif', 'Liberation Serif', serif">τ</text>
<text x="1425.5" y="127.8" font-size="60.0" textLength="57.8" lengthAdjust="spacing" font-style="italic">xy</text>
<text transform="translate(1497.2 110.4) scale(1.090 1)" font-size="74.5" font-style="italic" font-family="'DejaVu Serif', 'Liberation Serif', serif">σ</text>
<text x="1542.8" y="127.8" font-size="60.0" font-style="italic">x</text>
<text x="1609.8" y="110.5" font-size="87.0" font-style="italic">c</text>
<text x="1650.3" y="110.5" font-size="87.0" textLength="171.0" lengthAdjust="spacing">[μm]</text>
<text x="1647.2" y="196.6" font-size="87.0" textLength="85.8" lengthAdjust="spacing">25</text>
<text x="1647.2" y="283.0" font-size="87.0" textLength="87.1" lengthAdjust="spacing">50</text>
<text x="1647.1" y="369.4" font-size="87.0" textLength="85.8" lengthAdjust="spacing">75</text>
</g>
<g id="legendmarks" shape-rendering="crispEdges">
<path fill="#ff0000" d="M1441 162a11.1 11.1 0 1 1 22.2 0a11.1 11.1 0 1 1 -22.2 0z"/>
<path fill="#0000ff" d="M1453.2 234.8h2.6l12.3 19.7v4.6h-27.3v-4.6z"/>
<path fill="#008000" d="M1440.8 323.9h22.4v22.1h-22.4z"/>
<path fill="#ff0000" d="M1538 162.6a16.6 15.6 0 1 1 33.2 0a16.6 15.6 0 1 1 -33.2 0zM1543.5 162.6a11.1 10.7 0 1 0 22.2 0a11.1 10.7 0 1 0 -22.2 0z"/>
<path fill="#0000ff" d="M1554 228.9h4.7l16.3 28.3v4.7h-37.3v-4.7zM1556.4 237.7l-11.4 19.5h22.8z"/>
<path fill="#008000" d="M1537.8 319h33.4v32h-33.4zM1543.2 323.8v22.4h22.5v-22.4z"/>
</g>
<g id="arrows">
<path d="M1134.0 231.0L1081.1 266.2" stroke="#000" stroke-width="4.5" fill="none"/><path d="M1040.3 293.3L1075.0 253.4L1090.5 276.7Z" fill="#000"/>
<path d="M1112.0 567.0L1003.9 676.4" stroke="#000" stroke-width="4.5" fill="none"/><path d="M969.4 711.2L995.3 665.1L1015.2 684.8Z" fill="#000"/>
</g>
</svg>
</body></html>
